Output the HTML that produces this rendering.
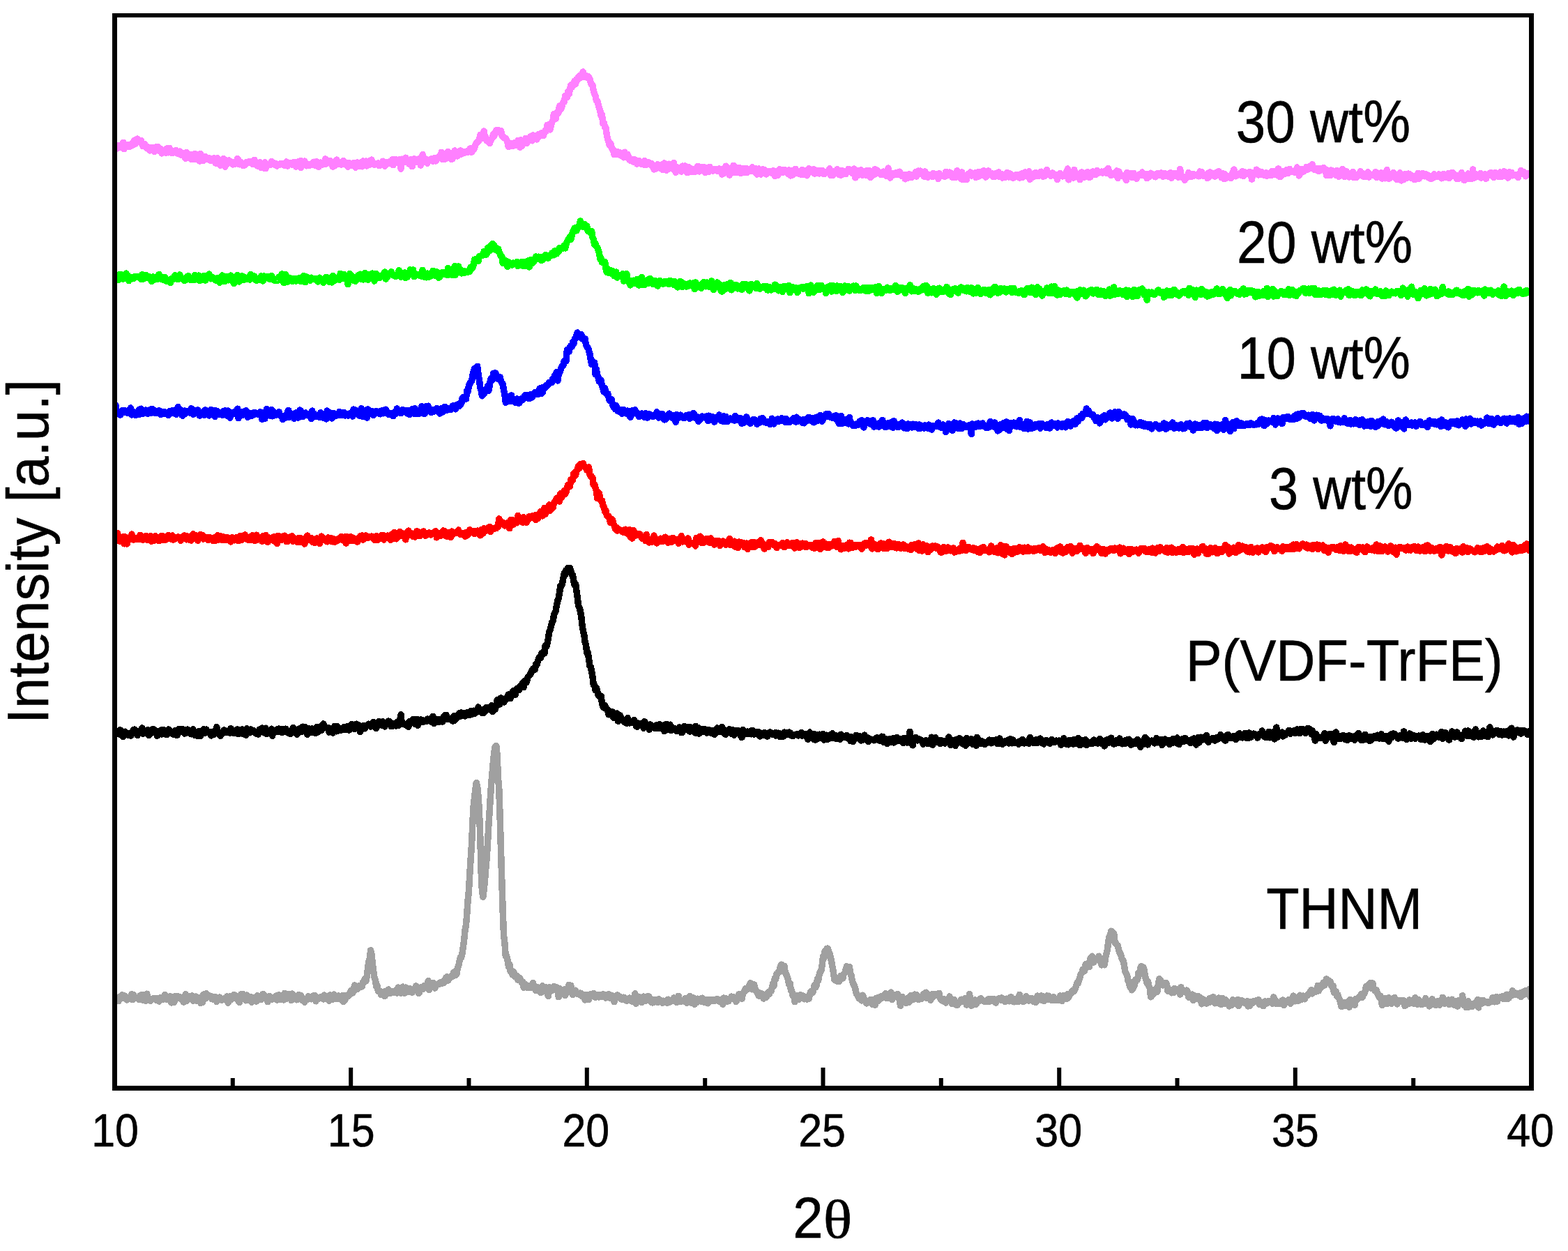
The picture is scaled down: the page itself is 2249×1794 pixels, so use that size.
<!DOCTYPE html>
<html><head><meta charset="utf-8"><title>XRD patterns</title>
<style>
html,body{margin:0;padding:0;background:#fff;overflow:hidden;}
svg{display:block;}
text{font-family:"Liberation Sans", sans-serif;fill:#000;stroke:#000;stroke-width:0.6px;}
</style></head><body>
<svg width="2249" height="1794" viewBox="0 0 2249 1794">
<defs><clipPath id="pc"><rect x="166" y="0" width="2031.5" height="1794"/></clipPath></defs>
<rect width="2249" height="1794" fill="#fff"/>
<g fill="none" stroke-width="9.5" stroke-linejoin="round" stroke-linecap="butt" shape-rendering="crispEdges" clip-path="url(#pc)">
<path d="M164.5 210.1 165.9 213.8 167.2 213.4 168.6 209.2 169.9 209.1 171.3 208.4 172.6 211.4 174.0 209.5 175.3 211.7 176.7 204.3 178.0 213.7 179.4 208.9 180.8 210.9 182.1 208.5 183.5 207.6 184.8 209.6 186.2 210.2 187.5 206.8 188.9 206.5 190.2 208.3 191.6 203.4 192.9 201.2 194.3 206.1 195.7 202.8 197.0 199.2 198.4 202.2 199.7 203.4 201.1 201.7 202.4 201.5 203.8 206.5 205.1 209.7 206.5 207.4 207.8 206.9 209.2 211.0 210.6 212.8 211.9 210.8 213.3 213.9 214.6 215.9 216.0 212.8 217.3 211.4 218.7 215.0 220.0 214.9 221.4 217.6 222.8 211.1 224.1 213.1 225.5 212.8 226.8 210.5 228.2 215.9 229.5 217.2 230.9 213.8 232.2 219.9 233.6 218.5 234.9 218.1 236.3 217.6 237.7 219.3 239.0 213.1 240.4 218.7 241.7 218.8 243.1 212.3 244.4 218.3 245.8 216.7 247.1 219.7 248.5 216.4 249.8 218.4 251.2 218.8 252.6 215.5 253.9 219.8 255.3 218.0 256.6 219.8 258.0 217.2 259.3 221.9 260.7 220.9 262.0 219.2 263.4 222.2 264.7 224.9 266.1 227.3 267.5 218.7 268.8 226.3 270.2 225.6 271.5 224.3 272.9 221.9 274.2 228.3 275.6 221.4 276.9 226.5 278.3 228.7 279.6 220.6 281.0 224.3 282.4 221.5 283.7 225.9 285.1 229.5 286.4 231.0 287.8 220.5 289.1 224.0 290.5 227.8 291.8 230.5 293.2 227.6 294.5 224.8 295.9 228.1 297.3 227.7 298.6 227.7 300.0 226.7 301.3 230.2 302.7 230.4 304.0 229.6 305.4 229.4 306.7 226.7 308.1 229.1 309.4 234.0 310.8 230.3 312.2 226.9 313.5 234.8 314.9 232.7 316.2 237.3 317.6 231.7 318.9 230.3 320.3 227.7 321.6 235.6 323.0 239.2 324.4 229.8 325.7 230.4 327.1 234.0 328.4 230.1 329.8 231.8 331.1 231.7 332.5 233.3 333.8 235.9 335.2 233.0 336.5 235.6 337.9 232.0 339.3 234.2 340.6 227.4 342.0 229.4 343.3 235.8 344.7 232.0 346.0 235.4 347.4 235.4 348.7 237.6 350.1 236.3 351.4 236.9 352.8 233.8 354.2 232.3 355.5 232.3 356.9 233.0 358.2 231.3 359.6 233.0 360.9 234.3 362.3 235.3 363.6 233.7 365.0 229.3 366.3 234.5 367.7 235.4 369.1 237.9 370.4 236.5 371.8 233.2 373.1 233.0 374.5 240.7 375.8 237.2 377.2 240.3 378.5 241.2 379.9 232.9 381.2 241.7 382.6 236.6 384.0 236.9 385.3 236.9 386.7 236.0 388.0 236.0 389.4 231.3 390.7 235.1 392.1 233.5 393.4 235.9 394.8 234.3 396.1 237.4 397.5 237.9 398.9 236.5 400.2 236.6 401.6 235.9 402.9 234.4 404.3 235.2 405.6 234.3 407.0 236.8 408.3 235.7 409.7 237.3 411.0 232.0 412.4 238.1 413.8 233.5 415.1 233.6 416.5 235.1 417.8 234.0 419.2 236.4 420.5 233.9 421.9 232.5 423.2 233.1 424.6 239.1 426.0 235.5 427.3 232.1 428.7 235.4 430.0 231.0 431.4 240.3 432.7 231.0 434.1 236.6 435.4 236.7 436.8 231.1 438.1 236.0 439.5 237.9 440.9 236.3 442.2 235.7 443.6 237.6 444.9 235.4 446.3 235.8 447.6 234.5 449.0 236.6 450.3 232.2 451.7 237.0 453.0 233.3 454.4 231.7 455.8 235.7 457.1 239.4 458.5 237.3 459.8 233.2 461.2 236.5 462.5 233.3 463.9 234.2 465.2 234.8 466.6 228.0 467.9 235.0 469.3 231.6 470.7 232.5 472.0 230.4 473.4 230.3 474.7 231.9 476.1 236.8 477.4 239.2 478.8 234.4 480.1 237.6 481.5 233.8 482.8 229.1 484.2 234.9 485.6 235.7 486.9 233.3 488.3 235.3 489.6 236.1 491.0 232.1 492.3 230.4 493.7 233.9 495.0 233.9 496.4 233.5 497.7 237.3 499.1 239.3 500.5 233.3 501.8 236.5 503.2 237.1 504.5 236.5 505.9 237.4 507.2 233.4 508.6 236.6 509.9 240.2 511.3 236.8 512.6 232.8 514.0 236.2 515.4 238.0 516.7 235.5 518.1 232.9 519.4 238.8 520.8 231.0 522.1 235.9 523.5 234.5 524.8 231.2 526.2 237.9 527.6 235.5 528.9 231.2 530.3 236.2 531.6 233.3 533.0 229.2 534.3 232.6 535.7 235.2 537.0 236.3 538.4 235.0 539.7 234.6 541.1 235.8 542.5 233.9 543.8 237.7 545.2 234.8 546.5 235.1 547.9 235.7 549.2 231.2 550.6 232.1 551.9 238.3 553.3 234.8 554.6 233.0 556.0 234.6 557.4 232.2 558.7 234.2 560.1 231.5 561.4 234.0 562.8 228.7 564.1 236.7 565.5 231.4 566.8 228.3 568.2 231.9 569.5 231.4 570.9 232.7 572.3 229.0 573.6 233.2 575.0 242.1 576.3 228.2 577.7 232.6 579.0 230.7 580.4 232.0 581.7 226.2 583.1 228.0 584.4 232.4 585.8 230.9 587.2 235.5 588.5 228.8 589.9 231.2 591.2 238.7 592.6 228.3 593.9 227.8 595.3 230.2 596.6 230.0 598.0 232.4 599.3 230.3 600.7 227.7 602.1 230.3 603.4 237.0 604.8 233.1 606.1 221.6 607.5 228.9 608.8 226.7 610.2 230.8 611.5 228.4 612.9 234.2 614.2 231.2 615.6 231.0 617.0 228.9 618.3 228.1 619.7 229.0 621.0 231.5 622.4 229.2 623.7 226.6 625.1 230.9 626.4 227.7 627.8 226.8 629.2 224.6 630.5 225.0 631.9 224.6 633.2 218.3 634.6 228.7 635.9 227.2 637.3 224.8 638.6 228.1 640.0 226.1 641.3 225.7 642.7 217.4 644.1 223.4 645.4 225.3 646.8 228.0 648.1 228.3 649.5 226.8 650.8 219.3 652.2 216.0 653.5 223.5 654.9 221.6 656.2 223.9 657.6 220.5 659.0 221.1 660.3 215.9 661.7 220.9 663.0 218.0 664.4 219.7 665.7 219.6 667.1 217.5 668.4 218.1 669.8 216.7 671.1 218.2 672.5 216.9 673.9 213.3 675.2 212.5 676.6 218.3 677.9 212.3 679.3 214.6 680.6 211.7 682.0 207.3 683.3 204.6 684.7 204.6 686.0 202.5 687.4 201.0 688.8 193.6 690.1 193.7 691.5 194.0 692.8 198.4 694.2 188.1 695.5 197.8 696.9 197.2 698.2 201.9 699.6 200.5 700.9 202.9 702.3 205.5 703.7 200.9 705.0 199.4 706.4 197.4 707.7 192.2 709.1 194.9 710.4 189.9 711.8 186.7 713.1 187.7 714.5 186.6 715.8 189.4 717.2 187.9 718.6 187.7 719.9 194.8 721.3 195.2 722.6 197.8 724.0 197.8 725.3 198.3 726.7 200.6 728.0 204.4 729.4 210.7 730.8 209.9 732.1 205.6 733.5 209.5 734.8 205.4 736.2 209.4 737.5 205.1 738.9 204.4 740.2 207.8 741.6 206.6 742.9 201.6 744.3 207.8 745.7 211.2 747.0 200.6 748.4 209.4 749.7 201.9 751.1 202.0 752.4 202.5 753.8 198.5 755.1 205.7 756.5 203.0 757.8 199.1 759.2 199.9 760.6 196.0 761.9 198.7 763.3 201.8 764.6 193.8 766.0 196.8 767.3 197.8 768.7 199.7 770.0 199.8 771.4 194.1 772.7 192.5 774.1 195.0 775.5 191.8 776.8 191.0 778.2 193.9 779.5 194.6 780.9 189.4 782.2 187.0 783.6 187.8 784.9 179.5 786.3 183.1 787.6 178.3 789.0 186.0 790.4 179.2 791.7 175.4 793.1 172.2 794.4 163.4 795.8 170.1 797.1 170.4 798.5 161.5 799.8 163.2 801.2 160.9 802.5 152.1 803.9 156.6 805.3 155.2 806.6 149.6 808.0 146.2 809.3 146.1 810.7 137.2 812.0 139.4 813.4 139.8 814.7 131.1 816.1 135.1 817.4 128.9 818.8 122.0 820.2 125.4 821.5 120.8 822.9 122.3 824.2 116.1 825.6 120.4 826.9 113.6 828.3 114.9 829.6 110.2 831.0 109.0 832.4 111.5 833.7 107.5 835.1 105.2 836.4 103.0 837.8 110.3 839.1 110.0 840.5 108.2 841.8 111.2 843.2 109.3 844.5 111.0 845.9 113.3 847.3 118.9 848.6 121.7 850.0 122.2 851.3 130.3 852.7 134.6 854.0 137.3 855.4 144.1 856.7 144.7 858.1 149.4 859.4 155.5 860.8 158.7 862.2 165.8 863.5 165.0 864.9 177.3 866.2 176.0 867.6 182.3 868.9 183.4 870.3 193.2 871.6 199.7 873.0 203.9 874.3 207.9 875.7 205.5 877.1 211.3 878.4 214.8 879.8 215.0 881.1 221.6 882.5 219.6 883.8 219.6 885.2 221.5 886.5 217.9 887.9 218.3 889.2 218.8 890.6 223.0 892.0 222.9 893.3 224.0 894.7 225.8 896.0 218.2 897.4 222.4 898.7 224.9 900.1 221.4 901.4 224.3 902.8 229.3 904.1 230.1 905.5 230.7 906.9 228.5 908.2 228.4 909.6 232.6 910.9 229.2 912.3 231.7 913.6 235.1 915.0 230.8 916.3 230.6 917.7 232.8 919.0 234.9 920.4 235.0 921.8 234.6 923.1 236.1 924.5 230.5 925.8 233.0 927.2 236.3 928.5 233.6 929.9 232.9 931.2 233.6 932.6 234.7 934.0 237.1 935.3 235.0 936.7 238.7 938.0 243.0 939.4 238.0 940.7 242.1 942.1 239.5 943.4 235.7 944.8 238.2 946.1 236.3 947.5 241.4 948.9 236.1 950.2 243.2 951.6 241.2 952.9 234.0 954.3 242.0 955.6 244.3 957.0 237.8 958.3 242.9 959.7 235.2 961.0 241.1 962.4 235.8 963.8 241.9 965.1 235.7 966.5 233.4 967.8 242.0 969.2 247.4 970.5 239.4 971.9 243.5 973.2 241.5 974.6 240.4 975.9 243.1 977.3 246.1 978.7 238.1 980.0 243.2 981.4 242.7 982.7 237.8 984.1 246.4 985.4 247.4 986.8 239.3 988.1 246.9 989.5 242.3 990.8 241.8 992.2 246.5 993.6 243.0 994.9 243.3 996.3 246.7 997.6 246.1 999.0 245.1 1000.3 238.7 1001.7 238.3 1003.0 245.9 1004.4 240.2 1005.7 243.3 1007.1 239.9 1008.5 242.5 1009.8 239.4 1011.2 247.6 1012.5 240.3 1013.9 242.8 1015.2 242.7 1016.6 246.7 1017.9 239.3 1019.3 243.3 1020.6 242.8 1022.0 244.9 1023.4 244.8 1024.7 242.3 1026.1 244.3 1027.4 242.6 1028.8 245.0 1030.1 243.4 1031.5 241.9 1032.8 243.7 1034.2 244.9 1035.6 250.2 1036.9 242.6 1038.3 244.8 1039.6 248.1 1041.0 238.2 1042.3 239.2 1043.7 240.8 1045.0 243.8 1046.4 251.0 1047.7 245.3 1049.1 247.7 1050.5 243.7 1051.8 237.5 1053.2 237.9 1054.5 247.3 1055.9 245.0 1057.2 243.7 1058.6 247.7 1059.9 240.3 1061.3 247.8 1062.6 248.7 1064.0 242.6 1065.4 241.6 1066.7 247.1 1068.1 241.7 1069.4 247.3 1070.8 241.5 1072.1 247.2 1073.5 245.2 1074.8 243.8 1076.2 242.5 1077.5 245.7 1078.9 239.8 1080.3 244.3 1081.6 244.0 1083.0 247.1 1084.3 241.7 1085.7 250.0 1087.0 244.4 1088.4 242.1 1089.7 249.2 1091.1 250.0 1092.4 244.9 1093.8 242.9 1095.2 245.5 1096.5 243.5 1097.9 244.6 1099.2 249.9 1100.6 246.6 1101.9 246.0 1103.3 246.6 1104.6 245.5 1106.0 248.0 1107.3 248.1 1108.7 244.7 1110.1 246.0 1111.4 252.5 1112.8 247.0 1114.1 245.3 1115.5 251.6 1116.8 245.9 1118.2 242.8 1119.5 247.8 1120.9 243.4 1122.2 244.6 1123.6 246.9 1125.0 245.6 1126.3 243.9 1127.7 244.5 1129.0 244.4 1130.4 249.4 1131.7 244.1 1133.1 244.5 1134.4 251.9 1135.8 244.6 1137.2 250.4 1138.5 249.9 1139.9 245.8 1141.2 242.3 1142.6 247.6 1143.9 248.2 1145.3 249.1 1146.6 246.6 1148.0 249.8 1149.3 250.3 1150.7 243.5 1152.1 250.5 1153.4 247.0 1154.8 244.9 1156.1 245.6 1157.5 251.8 1158.8 249.3 1160.2 241.6 1161.5 246.8 1162.9 246.2 1164.2 246.2 1165.6 245.2 1167.0 242.6 1168.3 249.1 1169.7 244.1 1171.0 245.7 1172.4 245.1 1173.7 244.8 1175.1 248.9 1176.4 247.9 1177.8 245.0 1179.1 244.3 1180.5 245.6 1181.9 249.7 1183.2 247.3 1184.6 247.7 1185.9 246.1 1187.3 246.3 1188.6 247.7 1190.0 241.9 1191.3 251.6 1192.7 244.9 1194.0 245.6 1195.4 250.9 1196.8 247.8 1198.1 247.4 1199.5 245.6 1200.8 242.9 1202.2 247.8 1203.5 250.7 1204.9 244.9 1206.2 251.2 1207.6 244.3 1208.9 245.4 1210.3 248.9 1211.7 247.5 1213.0 249.5 1214.4 245.5 1215.7 244.7 1217.1 242.4 1218.4 244.3 1219.8 244.7 1221.1 243.7 1222.5 248.6 1223.8 245.9 1225.2 242.2 1226.6 254.8 1227.9 245.5 1229.3 244.4 1230.6 251.4 1232.0 250.0 1233.3 244.8 1234.7 243.9 1236.0 245.3 1237.4 251.3 1238.8 247.3 1240.1 245.9 1241.5 248.1 1242.8 251.6 1244.2 244.4 1245.5 247.2 1246.9 244.5 1248.2 254.4 1249.6 253.5 1250.9 251.1 1252.3 248.1 1253.7 250.3 1255.0 242.6 1256.4 249.3 1257.7 244.8 1259.1 244.9 1260.4 246.7 1261.8 247.7 1263.1 250.3 1264.5 250.7 1265.8 249.5 1267.2 246.2 1268.6 250.7 1269.9 248.5 1271.3 252.2 1272.6 246.4 1274.0 241.2 1275.3 247.7 1276.7 255.1 1278.0 250.4 1279.4 248.6 1280.7 251.6 1282.1 250.6 1283.5 250.5 1284.8 247.8 1286.2 249.5 1287.5 249.9 1288.9 247.5 1290.2 246.2 1291.6 249.8 1292.9 252.1 1294.3 251.3 1295.6 250.9 1297.0 250.9 1298.4 256.8 1299.7 250.3 1301.1 252.5 1302.4 255.1 1303.8 249.8 1305.1 250.4 1306.5 252.6 1307.8 254.5 1309.2 250.7 1310.5 250.8 1311.9 250.1 1313.3 246.5 1314.6 253.0 1316.0 249.2 1317.3 245.1 1318.7 249.6 1320.0 245.2 1321.4 247.2 1322.7 250.1 1324.1 247.5 1325.4 253.1 1326.8 246.0 1328.2 250.9 1329.5 251.7 1330.9 254.3 1332.2 252.8 1333.6 250.9 1334.9 250.5 1336.3 250.1 1337.6 253.5 1339.0 248.5 1340.4 251.8 1341.7 250.1 1343.1 251.0 1344.4 249.7 1345.8 256.4 1347.1 248.6 1348.5 251.1 1349.8 251.2 1351.2 252.2 1352.5 251.7 1353.9 251.7 1355.3 253.3 1356.6 246.3 1358.0 250.6 1359.3 247.1 1360.7 251.2 1362.0 247.2 1363.4 247.9 1364.7 250.4 1366.1 254.5 1367.4 252.2 1368.8 251.4 1370.2 254.5 1371.5 248.0 1372.9 244.8 1374.2 249.5 1375.6 249.9 1376.9 254.1 1378.3 256.7 1379.6 247.0 1381.0 257.6 1382.3 255.1 1383.7 253.1 1385.1 251.8 1386.4 257.5 1387.8 251.0 1389.1 249.4 1390.5 251.2 1391.8 246.9 1393.2 252.1 1394.5 250.5 1395.9 251.7 1397.2 251.8 1398.6 247.9 1400.0 254.5 1401.3 248.0 1402.7 253.3 1404.0 246.4 1405.4 251.9 1406.7 248.6 1408.1 251.0 1409.4 249.1 1410.8 244.8 1412.1 247.8 1413.5 253.9 1414.9 252.7 1416.2 246.8 1417.6 245.0 1418.9 248.5 1420.3 250.4 1421.6 249.2 1423.0 248.7 1424.3 253.4 1425.7 253.7 1427.0 253.1 1428.4 248.4 1429.8 251.2 1431.1 250.5 1432.5 247.0 1433.8 253.5 1435.2 251.3 1436.5 249.7 1437.9 255.0 1439.2 253.2 1440.6 253.5 1442.0 254.4 1443.3 253.1 1444.7 247.5 1446.0 250.0 1447.4 253.9 1448.7 249.0 1450.1 251.2 1451.4 252.2 1452.8 255.2 1454.1 254.8 1455.5 253.7 1456.9 250.6 1458.2 253.7 1459.6 252.6 1460.9 250.7 1462.3 255.0 1463.6 252.6 1465.0 249.1 1466.3 254.7 1467.7 250.5 1469.0 252.9 1470.4 246.9 1471.8 251.1 1473.1 248.6 1474.5 248.5 1475.8 245.9 1477.2 257.2 1478.5 250.8 1479.9 251.9 1481.2 254.3 1482.6 250.9 1483.9 252.7 1485.3 247.4 1486.7 251.8 1488.0 250.1 1489.4 252.7 1490.7 251.8 1492.1 247.4 1493.4 246.1 1494.8 248.4 1496.1 253.3 1497.5 252.5 1498.8 252.4 1500.2 245.6 1501.6 243.7 1502.9 249.5 1504.3 250.3 1505.6 249.6 1507.0 252.3 1508.3 250.8 1509.7 248.0 1511.0 248.8 1512.4 251.7 1513.7 251.5 1515.1 251.1 1516.5 257.6 1517.8 250.6 1519.2 251.6 1520.5 248.5 1521.9 250.3 1523.2 252.8 1524.6 252.9 1525.9 250.9 1527.3 252.4 1528.6 251.5 1530.0 246.0 1531.4 242.1 1532.7 257.8 1534.1 253.6 1535.4 251.1 1536.8 246.4 1538.1 247.7 1539.5 255.1 1540.8 243.5 1542.2 250.4 1543.6 253.7 1544.9 251.6 1546.3 253.3 1547.6 250.7 1549.0 257.7 1550.3 248.1 1551.7 247.0 1553.0 251.5 1554.4 254.6 1555.7 250.4 1557.1 253.3 1558.5 248.8 1559.8 246.8 1561.2 253.9 1562.5 254.2 1563.9 254.0 1565.2 248.3 1566.6 246.2 1567.9 246.0 1569.3 248.5 1570.6 250.5 1572.0 250.1 1573.4 244.4 1574.7 248.6 1576.1 247.7 1577.4 247.6 1578.8 246.9 1580.1 246.2 1581.5 248.2 1582.8 246.9 1584.2 247.2 1585.5 244.8 1586.9 248.1 1588.3 246.9 1589.6 241.7 1591.0 249.4 1592.3 247.7 1593.7 251.4 1595.0 248.7 1596.4 249.3 1597.7 250.4 1599.1 249.9 1600.4 248.8 1601.8 245.0 1603.2 255.3 1604.5 245.7 1605.9 249.2 1607.2 252.1 1608.6 251.3 1609.9 251.9 1611.3 252.5 1612.6 253.9 1614.0 251.2 1615.3 258.6 1616.7 247.6 1618.1 251.1 1619.4 249.5 1620.8 249.0 1622.1 251.4 1623.5 254.7 1624.8 248.7 1626.2 248.7 1627.5 252.8 1628.9 252.3 1630.2 256.3 1631.6 253.7 1633.0 251.5 1634.3 249.9 1635.7 251.5 1637.0 250.4 1638.4 247.1 1639.7 251.0 1641.1 250.5 1642.4 250.3 1643.8 249.8 1645.2 255.7 1646.5 253.0 1647.9 253.7 1649.2 249.4 1650.6 248.2 1651.9 250.3 1653.3 251.8 1654.6 250.2 1656.0 250.6 1657.3 253.8 1658.7 252.0 1660.1 248.4 1661.4 250.0 1662.8 249.4 1664.1 251.7 1665.5 247.9 1666.8 250.7 1668.2 253.2 1669.5 251.3 1670.9 248.7 1672.2 249.5 1673.6 251.6 1675.0 252.6 1676.3 253.6 1677.7 250.9 1679.0 247.6 1680.4 255.3 1681.7 252.1 1683.1 252.4 1684.4 252.1 1685.8 248.4 1687.1 250.4 1688.5 252.0 1689.9 254.2 1691.2 251.5 1692.6 242.6 1693.9 250.6 1695.3 252.3 1696.6 254.9 1698.0 253.3 1699.3 258.3 1700.7 255.3 1702.0 255.1 1703.4 253.9 1704.8 247.4 1706.1 253.7 1707.5 253.0 1708.8 249.8 1710.2 252.9 1711.5 252.4 1712.9 250.0 1714.2 250.9 1715.6 250.5 1716.9 251.9 1718.3 250.1 1719.7 252.8 1721.0 245.9 1722.4 250.4 1723.7 246.5 1725.1 249.9 1726.4 252.6 1727.8 251.2 1729.1 250.9 1730.5 251.4 1731.8 255.6 1733.2 248.1 1734.6 253.6 1735.9 246.9 1737.3 249.8 1738.6 251.6 1740.0 248.7 1741.3 251.7 1742.7 253.1 1744.0 247.7 1745.4 250.8 1746.8 250.0 1748.1 245.6 1749.5 250.5 1750.8 248.7 1752.2 254.7 1753.5 248.5 1754.9 256.1 1756.2 249.4 1757.6 256.3 1758.9 252.4 1760.3 252.1 1761.7 253.1 1763.0 253.4 1764.4 254.7 1765.7 255.6 1767.1 249.8 1768.4 247.2 1769.8 243.2 1771.1 249.6 1772.5 252.8 1773.8 251.7 1775.2 251.0 1776.6 249.6 1777.9 248.8 1779.3 249.8 1780.6 251.6 1782.0 245.6 1783.3 252.5 1784.7 246.4 1786.0 250.0 1787.4 248.6 1788.7 249.4 1790.1 247.4 1791.5 247.1 1792.8 249.7 1794.2 247.2 1795.5 257.1 1796.9 249.1 1798.2 248.3 1799.6 248.6 1800.9 247.1 1802.3 243.2 1803.6 249.3 1805.0 250.9 1806.4 245.8 1807.7 250.0 1809.1 246.5 1810.4 249.8 1811.8 250.9 1813.1 251.2 1814.5 251.0 1815.8 247.8 1817.2 252.2 1818.5 248.4 1819.9 250.5 1821.3 251.4 1822.6 248.5 1824.0 245.7 1825.3 250.9 1826.7 245.9 1828.0 246.4 1829.4 245.6 1830.7 250.9 1832.1 247.9 1833.4 241.9 1834.8 250.1 1836.2 253.7 1837.5 252.7 1838.9 245.9 1840.2 247.5 1841.6 248.6 1842.9 249.5 1844.3 246.9 1845.6 243.5 1847.0 248.5 1848.4 247.9 1849.7 242.3 1851.1 244.8 1852.4 246.3 1853.8 245.3 1855.1 246.5 1856.5 247.0 1857.8 246.0 1859.2 243.8 1860.5 240.1 1861.9 245.3 1863.3 251.9 1864.6 248.5 1866.0 242.5 1867.3 242.3 1868.7 246.2 1870.0 246.0 1871.4 242.7 1872.7 243.6 1874.1 239.4 1875.4 243.1 1876.8 239.2 1878.2 241.1 1879.5 241.2 1880.9 240.4 1882.2 235.9 1883.6 239.7 1884.9 243.1 1886.3 242.2 1887.6 241.5 1889.0 244.1 1890.3 245.0 1891.7 245.7 1893.1 241.4 1894.4 244.0 1895.8 243.3 1897.1 242.0 1898.5 240.6 1899.8 244.7 1901.2 242.8 1902.5 251.6 1903.9 245.5 1905.2 245.4 1906.6 245.1 1908.0 251.7 1909.3 244.1 1910.7 246.5 1912.0 245.1 1913.4 247.1 1914.7 247.7 1916.1 251.1 1917.4 244.4 1918.8 248.5 1920.1 253.4 1921.5 247.7 1922.9 248.9 1924.2 247.2 1925.6 242.6 1926.9 249.8 1928.3 253.6 1929.6 249.2 1931.0 245.5 1932.3 251.6 1933.7 251.2 1935.0 253.9 1936.4 253.7 1937.8 250.5 1939.1 252.4 1940.5 246.3 1941.8 254.5 1943.2 251.9 1944.5 254.5 1945.9 254.4 1947.2 250.7 1948.6 251.1 1950.0 249.1 1951.3 245.8 1952.7 251.3 1954.0 252.1 1955.4 248.7 1956.7 253.7 1958.1 252.0 1959.4 253.1 1960.8 249.7 1962.1 246.9 1963.5 254.1 1964.9 250.3 1966.2 251.6 1967.6 250.8 1968.9 251.2 1970.3 251.7 1971.6 250.6 1973.0 246.5 1974.3 254.3 1975.7 248.0 1977.0 251.2 1978.4 251.3 1979.8 252.9 1981.1 247.7 1982.5 256.0 1983.8 254.1 1985.2 254.5 1986.5 255.9 1987.9 250.1 1989.2 243.6 1990.6 253.3 1991.9 256.1 1993.3 255.7 1994.7 251.0 1996.0 252.2 1997.4 253.3 1998.7 247.5 2000.1 250.7 2001.4 250.8 2002.8 257.0 2004.1 250.8 2005.5 257.0 2006.8 252.7 2008.2 247.9 2009.6 258.9 2010.9 249.9 2012.3 254.4 2013.6 257.5 2015.0 251.2 2016.3 249.3 2017.7 255.6 2019.0 252.9 2020.4 249.3 2021.7 249.7 2023.1 251.7 2024.5 255.5 2025.8 252.0 2027.2 254.6 2028.5 257.4 2029.9 256.4 2031.2 256.9 2032.6 256.3 2033.9 248.3 2035.3 256.3 2036.6 253.8 2038.0 252.5 2039.4 249.8 2040.7 248.4 2042.1 249.8 2043.4 252.8 2044.8 249.6 2046.1 250.6 2047.5 251.2 2048.8 254.8 2050.2 252.1 2051.6 252.5 2052.9 256.6 2054.3 252.0 2055.6 254.6 2057.0 249.9 2058.3 253.8 2059.7 253.2 2061.0 253.4 2062.4 251.6 2063.7 250.0 2065.1 252.0 2066.5 251.6 2067.8 255.8 2069.2 255.4 2070.5 249.5 2071.9 254.6 2073.2 251.5 2074.6 254.1 2075.9 251.4 2077.3 248.6 2078.6 255.6 2080.0 253.9 2081.4 249.2 2082.7 247.3 2084.1 251.1 2085.4 249.2 2086.8 251.5 2088.1 254.2 2089.5 256.6 2090.8 251.4 2092.2 256.2 2093.5 255.6 2094.9 251.1 2096.3 247.6 2097.6 254.6 2099.0 253.9 2100.3 258.7 2101.7 256.1 2103.0 254.2 2104.4 256.7 2105.7 249.0 2107.1 252.4 2108.4 251.1 2109.8 256.7 2111.2 253.3 2112.5 243.1 2113.9 255.5 2115.2 249.1 2116.6 253.7 2117.9 250.2 2119.3 252.1 2120.6 253.2 2122.0 251.9 2123.3 248.6 2124.7 255.2 2126.1 252.3 2127.4 251.1 2128.8 253.1 2130.1 249.6 2131.5 256.3 2132.8 251.6 2134.2 251.9 2135.5 251.8 2136.9 248.3 2138.2 247.5 2139.6 251.3 2141.0 251.7 2142.3 254.4 2143.7 251.9 2145.0 247.5 2146.4 252.0 2147.7 252.8 2149.1 253.2 2150.4 251.3 2151.8 246.9 2153.2 253.6 2154.5 248.2 2155.9 251.8 2157.2 245.8 2158.6 252.3 2159.9 247.9 2161.3 253.1 2162.6 255.0 2164.0 253.3 2165.3 246.8 2166.7 247.4 2168.1 247.5 2169.4 251.8 2170.8 250.9 2172.1 250.4 2173.5 250.8 2174.8 251.5 2176.2 251.7 2177.5 254.6 2178.9 249.7 2180.2 250.4 2181.6 244.6 2183.0 246.1 2184.3 247.9 2185.7 246.5 2187.0 250.5 2188.4 252.8 2189.7 248.7 2191.1 248.6 2192.4 248.5 2193.8 250.3 2195.1 248.5 2196.5 251.2" stroke="#FF80FF"/>
<path d="M164.5 397.0 165.9 399.9 167.2 399.1 168.6 399.1 169.9 401.6 171.3 393.8 172.6 395.4 174.0 393.5 175.3 397.0 176.7 400.1 178.0 397.3 179.4 398.8 180.8 392.1 182.1 397.9 183.5 395.0 184.8 402.6 186.2 400.1 187.5 400.3 188.9 397.5 190.2 399.5 191.6 399.6 192.9 396.9 194.3 396.5 195.7 397.6 197.0 396.3 198.4 396.3 199.7 397.2 201.1 396.0 202.4 400.3 203.8 393.7 205.1 400.5 206.5 396.5 207.8 396.8 209.2 394.5 210.6 398.0 211.9 397.7 213.3 399.0 214.6 397.0 216.0 398.8 217.3 403.6 218.7 399.7 220.0 397.0 221.4 401.3 222.8 398.3 224.1 400.4 225.5 400.4 226.8 397.7 228.2 393.4 229.5 397.8 230.9 400.4 232.2 397.8 233.6 400.1 234.9 401.7 236.3 397.4 237.7 402.4 239.0 403.5 240.4 402.0 241.7 402.3 243.1 402.1 244.4 405.4 245.8 399.6 247.1 399.1 248.5 400.8 249.8 396.6 251.2 394.8 252.6 396.7 253.9 400.3 255.3 400.5 256.6 394.9 258.0 394.0 259.3 398.4 260.7 398.7 262.0 399.1 263.4 401.2 264.7 402.7 266.1 399.9 267.5 401.0 268.8 396.2 270.2 396.0 271.5 400.0 272.9 401.2 274.2 401.3 275.6 401.0 276.9 401.5 278.3 401.6 279.6 394.4 281.0 397.2 282.4 400.6 283.7 401.0 285.1 395.1 286.4 402.6 287.8 398.1 289.1 398.6 290.5 400.1 291.8 401.4 293.2 395.3 294.5 402.1 295.9 399.5 297.3 397.1 298.6 398.5 300.0 393.2 301.3 397.5 302.7 399.8 304.0 397.3 305.4 398.4 306.7 398.9 308.1 399.4 309.4 402.2 310.8 399.2 312.2 398.6 313.5 400.8 314.9 405.1 316.2 398.3 317.6 400.7 318.9 394.9 320.3 403.1 321.6 401.1 323.0 403.0 324.4 399.1 325.7 396.4 327.1 401.8 328.4 401.4 329.8 396.9 331.1 395.2 332.5 400.6 333.8 398.8 335.2 406.6 336.5 397.6 337.9 397.8 339.3 399.0 340.6 394.6 342.0 396.8 343.3 403.9 344.7 398.9 346.0 397.6 347.4 395.7 348.7 400.9 350.1 401.1 351.4 400.0 352.8 398.2 354.2 400.2 355.5 400.4 356.9 397.4 358.2 401.0 359.6 393.4 360.9 395.7 362.3 398.4 363.6 399.0 365.0 396.0 366.3 400.2 367.7 402.3 369.1 400.6 370.4 399.9 371.8 401.6 373.1 400.4 374.5 396.1 375.8 398.7 377.2 402.9 378.5 396.1 379.9 399.5 381.2 398.2 382.6 396.8 384.0 396.5 385.3 399.6 386.7 400.2 388.0 400.2 389.4 395.3 390.7 398.5 392.1 400.3 393.4 402.0 394.8 401.3 396.1 401.7 397.5 402.5 398.9 401.8 400.2 397.2 401.6 399.7 402.9 397.5 404.3 392.9 405.6 394.9 407.0 405.5 408.3 396.5 409.7 393.4 411.0 398.1 412.4 404.0 413.8 399.7 415.1 401.0 416.5 399.1 417.8 399.7 419.2 403.5 420.5 402.2 421.9 399.8 423.2 402.5 424.6 403.1 426.0 399.5 427.3 400.9 428.7 400.9 430.0 398.3 431.4 403.4 432.7 399.8 434.1 398.5 435.4 395.6 436.8 396.8 438.1 404.6 439.5 397.1 440.9 401.6 442.2 399.3 443.6 401.8 444.9 402.1 446.3 398.2 447.6 399.6 449.0 400.7 450.3 400.7 451.7 400.3 453.0 399.5 454.4 402.1 455.8 404.0 457.1 401.8 458.5 398.2 459.8 401.4 461.2 400.4 462.5 401.5 463.9 405.3 465.2 399.5 466.6 400.0 467.9 397.5 469.3 399.1 470.7 398.2 472.0 404.2 473.4 400.6 474.7 398.0 476.1 405.0 477.4 395.8 478.8 401.8 480.1 402.2 481.5 400.8 482.8 398.4 484.2 398.7 485.6 398.0 486.9 401.1 488.3 392.3 489.6 397.3 491.0 399.1 492.3 396.9 493.7 393.4 495.0 397.7 496.4 396.2 497.7 400.4 499.1 407.6 500.5 398.2 501.8 392.5 503.2 397.3 504.5 395.1 505.9 399.5 507.2 402.3 508.6 398.3 509.9 403.1 511.3 401.5 512.6 399.1 514.0 394.7 515.4 397.6 516.7 393.2 518.1 400.1 519.4 397.5 520.8 400.9 522.1 397.8 523.5 391.5 524.8 398.6 526.2 399.3 527.6 401.3 528.9 393.8 530.3 393.8 531.6 396.5 533.0 393.2 534.3 392.2 535.7 392.9 537.0 403.0 538.4 393.9 539.7 392.7 541.1 394.1 542.5 395.2 543.8 398.7 545.2 397.6 546.5 397.1 547.9 394.9 549.2 395.1 550.6 392.7 551.9 390.2 553.3 400.0 554.6 392.9 556.0 396.9 557.4 393.1 558.7 393.6 560.1 393.3 561.4 389.8 562.8 393.4 564.1 394.6 565.5 395.7 566.8 394.7 568.2 396.1 569.5 394.0 570.9 393.1 572.3 387.6 573.6 391.5 575.0 397.3 576.3 393.3 577.7 395.1 579.0 392.3 580.4 391.0 581.7 398.6 583.1 393.8 584.4 397.0 585.8 394.4 587.2 392.1 588.5 386.7 589.9 393.3 591.2 388.7 592.6 386.9 593.9 396.7 595.3 395.4 596.6 395.2 598.0 393.7 599.3 393.6 600.7 394.9 602.1 394.3 603.4 394.2 604.8 396.2 606.1 387.3 607.5 396.8 608.8 392.6 610.2 396.9 611.5 397.8 612.9 392.2 614.2 396.9 615.6 396.9 617.0 392.7 618.3 393.2 619.7 395.0 621.0 388.4 622.4 393.4 623.7 395.0 625.1 393.2 626.4 389.8 627.8 393.0 629.2 398.2 630.5 397.4 631.9 393.2 633.2 391.0 634.6 393.0 635.9 392.8 637.3 390.6 638.6 391.3 640.0 393.7 641.3 394.3 642.7 384.6 644.1 393.9 645.4 391.3 646.8 393.9 648.1 390.4 649.5 391.5 650.8 394.7 652.2 381.6 653.5 394.2 654.9 390.2 656.2 384.4 657.6 381.9 659.0 390.2 660.3 386.3 661.7 391.9 663.0 389.6 664.4 388.5 665.7 391.5 667.1 389.1 668.4 390.4 669.8 390.4 671.1 388.8 672.5 389.8 673.9 389.4 675.2 383.0 676.6 385.7 677.9 384.0 679.3 379.5 680.6 372.1 682.0 371.9 683.3 373.1 684.7 371.6 686.0 374.4 687.4 367.8 688.8 367.6 690.1 366.6 691.5 366.6 692.8 365.0 694.2 360.5 695.5 365.4 696.9 365.5 698.2 363.9 699.6 355.7 700.9 356.1 702.3 359.7 703.7 352.4 705.0 352.2 706.4 349.6 707.7 352.3 709.1 352.4 710.4 357.9 711.8 355.5 713.1 358.5 714.5 356.9 715.8 361.7 717.2 363.7 718.6 367.8 719.9 367.9 721.3 377.5 722.6 373.0 724.0 377.6 725.3 373.7 726.7 378.5 728.0 382.5 729.4 375.8 730.8 379.4 732.1 378.4 733.5 379.5 734.8 380.0 736.2 377.2 737.5 378.5 738.9 377.4 740.2 376.7 741.6 375.5 742.9 381.6 744.3 376.7 745.7 380.5 747.0 380.0 748.4 375.5 749.7 381.0 751.1 375.5 752.4 379.4 753.8 381.5 755.1 375.2 756.5 374.3 757.8 374.1 759.2 382.9 760.6 375.1 761.9 372.4 763.3 377.9 764.6 374.8 766.0 374.8 767.3 371.7 768.7 367.9 770.0 371.6 771.4 370.3 772.7 368.2 774.1 369.2 775.5 369.1 776.8 373.5 778.2 372.7 779.5 371.6 780.9 368.1 782.2 365.6 783.6 369.4 784.9 369.3 786.3 370.3 787.6 366.9 789.0 366.1 790.4 366.7 791.7 362.7 793.1 362.4 794.4 365.8 795.8 359.8 797.1 362.3 798.5 363.9 799.8 361.5 801.2 361.0 802.5 355.6 803.9 357.2 805.3 355.5 806.6 356.7 808.0 354.8 809.3 352.2 810.7 355.9 812.0 350.6 813.4 346.6 814.7 343.8 816.1 343.3 817.4 339.4 818.8 343.2 820.2 337.8 821.5 333.0 822.9 329.9 824.2 327.0 825.6 327.8 826.9 330.8 828.3 328.0 829.6 324.1 831.0 323.5 832.4 317.0 833.7 323.7 835.1 320.7 836.4 325.3 837.8 321.6 839.1 321.8 840.5 325.1 841.8 324.2 843.2 331.5 844.5 330.3 845.9 332.3 847.3 334.4 848.6 331.7 850.0 340.5 851.3 342.9 852.7 350.7 854.0 349.3 855.4 353.5 856.7 354.7 858.1 358.8 859.4 362.8 860.8 370.9 862.2 370.9 863.5 376.2 864.9 375.3 866.2 377.5 867.6 375.4 868.9 385.2 870.3 390.4 871.6 385.5 873.0 391.3 874.3 390.7 875.7 387.4 877.1 392.3 878.4 388.4 879.8 390.8 881.1 395.7 882.5 393.3 883.8 390.2 885.2 398.0 886.5 397.0 887.9 394.7 889.2 394.8 890.6 395.9 892.0 394.5 893.3 392.8 894.7 403.1 896.0 395.8 897.4 396.5 898.7 392.6 900.1 400.1 901.4 403.9 902.8 404.7 904.1 408.9 905.5 405.7 906.9 403.0 908.2 402.2 909.6 406.4 910.9 402.6 912.3 403.5 913.6 400.5 915.0 403.6 916.3 409.1 917.7 403.6 919.0 405.1 920.4 397.4 921.8 408.1 923.1 405.5 924.5 408.5 925.8 405.4 927.2 402.5 928.5 401.2 929.9 406.5 931.2 405.1 932.6 399.7 934.0 405.2 935.3 403.7 936.7 407.6 938.0 404.5 939.4 402.3 940.7 405.6 942.1 404.3 943.4 410.1 944.8 404.8 946.1 402.5 947.5 406.1 948.9 405.6 950.2 407.1 951.6 407.1 952.9 403.6 954.3 406.5 955.6 406.4 957.0 403.4 958.3 405.2 959.7 407.5 961.0 402.5 962.4 404.0 963.8 405.8 965.1 407.0 966.5 408.7 967.8 403.6 969.2 408.3 970.5 409.2 971.9 411.9 973.2 406.5 974.6 405.2 975.9 403.5 977.3 409.4 978.7 411.5 980.0 406.1 981.4 409.3 982.7 410.6 984.1 411.0 985.4 407.3 986.8 410.3 988.1 408.4 989.5 406.0 990.8 409.5 992.2 409.9 993.6 406.2 994.9 410.3 996.3 414.7 997.6 405.0 999.0 411.2 1000.3 411.9 1001.7 409.5 1003.0 410.4 1004.4 408.8 1005.7 413.3 1007.1 407.0 1008.5 409.3 1009.8 404.3 1011.2 410.6 1012.5 410.8 1013.9 405.1 1015.2 407.4 1016.6 411.2 1017.9 408.6 1019.3 406.6 1020.6 403.0 1022.0 411.0 1023.4 415.5 1024.7 408.9 1026.1 411.4 1027.4 411.4 1028.8 404.9 1030.1 410.6 1031.5 410.7 1032.8 408.0 1034.2 417.4 1035.6 418.1 1036.9 411.4 1038.3 415.6 1039.6 408.3 1041.0 410.0 1042.3 413.9 1043.7 407.5 1045.0 407.2 1046.4 411.8 1047.7 405.4 1049.1 415.8 1050.5 413.1 1051.8 411.7 1053.2 413.0 1054.5 408.6 1055.9 408.6 1057.2 413.6 1058.6 413.9 1059.9 411.8 1061.3 411.3 1062.6 409.9 1064.0 415.4 1065.4 407.4 1066.7 409.2 1068.1 410.1 1069.4 407.4 1070.8 408.0 1072.1 408.8 1073.5 414.6 1074.8 416.9 1076.2 412.8 1077.5 407.3 1078.9 410.2 1080.3 411.6 1081.6 411.2 1083.0 411.0 1084.3 413.5 1085.7 406.6 1087.0 410.5 1088.4 412.8 1089.7 414.2 1091.1 413.0 1092.4 412.3 1093.8 411.9 1095.2 410.5 1096.5 412.6 1097.9 411.9 1099.2 410.5 1100.6 415.9 1101.9 415.9 1103.3 411.5 1104.6 414.4 1106.0 416.0 1107.3 413.4 1108.7 413.1 1110.1 414.2 1111.4 408.2 1112.8 408.8 1114.1 414.3 1115.5 413.7 1116.8 416.8 1118.2 411.6 1119.5 416.1 1120.9 416.0 1122.2 418.6 1123.6 410.8 1125.0 412.1 1126.3 413.9 1127.7 413.9 1129.0 410.4 1130.4 411.6 1131.7 409.6 1133.1 419.7 1134.4 413.1 1135.8 413.3 1137.2 411.6 1138.5 413.5 1139.9 415.6 1141.2 412.5 1142.6 413.4 1143.9 419.6 1145.3 416.1 1146.6 414.2 1148.0 412.4 1149.3 413.5 1150.7 411.5 1152.1 414.4 1153.4 411.6 1154.8 411.6 1156.1 412.5 1157.5 410.7 1158.8 414.2 1160.2 420.7 1161.5 412.0 1162.9 409.1 1164.2 416.4 1165.6 413.4 1167.0 419.3 1168.3 414.8 1169.7 416.4 1171.0 411.6 1172.4 409.3 1173.7 413.3 1175.1 415.7 1176.4 411.4 1177.8 409.4 1179.1 412.2 1180.5 412.6 1181.9 412.9 1183.2 413.8 1184.6 420.6 1185.9 414.0 1187.3 412.5 1188.6 410.9 1190.0 416.2 1191.3 409.5 1192.7 418.0 1194.0 413.9 1195.4 409.8 1196.8 414.5 1198.1 413.7 1199.5 417.4 1200.8 409.9 1202.2 414.6 1203.5 414.0 1204.9 416.7 1206.2 410.9 1207.6 411.9 1208.9 419.6 1210.3 415.7 1211.7 410.0 1213.0 415.1 1214.4 412.0 1215.7 412.3 1217.1 410.8 1218.4 417.0 1219.8 412.8 1221.1 414.8 1222.5 414.5 1223.8 410.1 1225.2 411.9 1226.6 416.5 1227.9 410.0 1229.3 415.1 1230.6 414.1 1232.0 416.2 1233.3 416.3 1234.7 416.7 1236.0 414.6 1237.4 415.2 1238.8 412.5 1240.1 413.0 1241.5 417.0 1242.8 412.9 1244.2 417.4 1245.5 417.3 1246.9 412.3 1248.2 416.1 1249.6 412.3 1250.9 415.6 1252.3 412.5 1253.7 415.6 1255.0 415.1 1256.4 411.8 1257.7 420.4 1259.1 417.4 1260.4 410.3 1261.8 415.7 1263.1 413.6 1264.5 420.5 1265.8 414.6 1267.2 415.9 1268.6 414.3 1269.9 416.6 1271.3 413.4 1272.6 412.3 1274.0 413.5 1275.3 413.7 1276.7 416.7 1278.0 415.2 1279.4 413.7 1280.7 413.8 1282.1 412.4 1283.5 415.3 1284.8 409.3 1286.2 414.4 1287.5 418.3 1288.9 414.0 1290.2 413.2 1291.6 415.2 1292.9 412.5 1294.3 412.9 1295.6 417.0 1297.0 413.3 1298.4 420.6 1299.7 416.6 1301.1 414.8 1302.4 413.4 1303.8 414.4 1305.1 408.8 1306.5 415.9 1307.8 417.7 1309.2 416.8 1310.5 414.0 1311.9 416.9 1313.3 417.0 1314.6 414.9 1316.0 416.2 1317.3 418.2 1318.7 416.6 1320.0 414.2 1321.4 415.4 1322.7 415.8 1324.1 410.9 1325.4 415.7 1326.8 415.0 1328.2 409.3 1329.5 410.6 1330.9 420.4 1332.2 415.7 1333.6 419.2 1334.9 414.4 1336.3 419.8 1337.6 417.1 1339.0 413.6 1340.4 416.3 1341.7 419.9 1343.1 422.2 1344.4 417.0 1345.8 414.3 1347.1 413.2 1348.5 417.5 1349.8 418.7 1351.2 416.1 1352.5 415.4 1353.9 418.0 1355.3 417.1 1356.6 416.9 1358.0 411.5 1359.3 414.9 1360.7 421.1 1362.0 415.8 1363.4 422.6 1364.7 417.0 1366.1 415.1 1367.4 416.7 1368.8 417.6 1370.2 413.9 1371.5 416.7 1372.9 414.8 1374.2 420.1 1375.6 414.8 1376.9 416.4 1378.3 411.9 1379.6 412.3 1381.0 415.9 1382.3 413.6 1383.7 415.3 1385.1 416.8 1386.4 417.8 1387.8 412.3 1389.1 416.9 1390.5 418.1 1391.8 414.4 1393.2 412.6 1394.5 414.4 1395.9 420.9 1397.2 416.4 1398.6 420.7 1400.0 415.6 1401.3 419.8 1402.7 412.4 1404.0 415.8 1405.4 416.7 1406.7 421.4 1408.1 417.9 1409.4 419.7 1410.8 415.4 1412.1 415.5 1413.5 420.2 1414.9 420.7 1416.2 420.1 1417.6 420.1 1418.9 415.3 1420.3 422.8 1421.6 417.3 1423.0 420.4 1424.3 419.0 1425.7 412.0 1427.0 411.5 1428.4 412.5 1429.8 416.8 1431.1 420.1 1432.5 416.3 1433.8 419.4 1435.2 413.6 1436.5 415.3 1437.9 414.6 1439.2 417.2 1440.6 413.9 1442.0 416.9 1443.3 418.9 1444.7 415.9 1446.0 414.8 1447.4 416.0 1448.7 413.9 1450.1 414.4 1451.4 419.6 1452.8 418.3 1454.1 413.4 1455.5 416.6 1456.9 418.7 1458.2 419.7 1459.6 419.3 1460.9 420.3 1462.3 417.5 1463.6 417.5 1465.0 416.9 1466.3 420.7 1467.7 420.1 1469.0 422.7 1470.4 420.9 1471.8 415.5 1473.1 413.6 1474.5 413.9 1475.8 415.3 1477.2 419.6 1478.5 413.9 1479.9 412.2 1481.2 417.4 1482.6 420.2 1483.9 420.1 1485.3 422.6 1486.7 417.9 1488.0 411.8 1489.4 417.2 1490.7 414.3 1492.1 416.2 1493.4 421.7 1494.8 424.0 1496.1 421.7 1497.5 418.5 1498.8 417.5 1500.2 418.8 1501.6 412.9 1502.9 419.8 1504.3 420.4 1505.6 417.9 1507.0 418.3 1508.3 411.1 1509.7 420.5 1511.0 420.5 1512.4 410.6 1513.7 416.7 1515.1 419.3 1516.5 423.1 1517.8 416.0 1519.2 418.3 1520.5 422.6 1521.9 419.8 1523.2 417.9 1524.6 417.3 1525.9 418.6 1527.3 416.3 1528.6 421.4 1530.0 416.2 1531.4 420.2 1532.7 421.3 1534.1 422.1 1535.4 419.1 1536.8 418.9 1538.1 419.8 1539.5 419.1 1540.8 422.0 1542.2 418.7 1543.6 424.4 1544.9 426.9 1546.3 417.2 1547.6 420.2 1549.0 415.8 1550.3 421.2 1551.7 420.3 1553.0 418.5 1554.4 416.2 1555.7 419.2 1557.1 424.8 1558.5 423.7 1559.8 420.2 1561.2 417.4 1562.5 419.1 1563.9 416.9 1565.2 415.4 1566.6 416.5 1567.9 420.9 1569.3 420.1 1570.6 419.7 1572.0 416.1 1573.4 415.3 1574.7 422.1 1576.1 418.2 1577.4 422.6 1578.8 417.2 1580.1 422.0 1581.5 420.0 1582.8 418.1 1584.2 418.1 1585.5 424.7 1586.9 422.0 1588.3 418.6 1589.6 419.9 1591.0 415.0 1592.3 424.3 1593.7 423.4 1595.0 418.3 1596.4 420.7 1597.7 411.7 1599.1 422.2 1600.4 420.8 1601.8 420.2 1603.2 421.8 1604.5 420.4 1605.9 416.8 1607.2 417.6 1608.6 419.0 1609.9 422.1 1611.3 419.6 1612.6 417.6 1614.0 420.6 1615.3 416.1 1616.7 425.4 1618.1 420.4 1619.4 416.8 1620.8 420.1 1622.1 422.6 1623.5 421.1 1624.8 425.4 1626.2 415.6 1627.5 424.1 1628.9 419.6 1630.2 422.2 1631.6 424.5 1633.0 416.3 1634.3 415.7 1635.7 418.6 1637.0 415.0 1638.4 414.1 1639.7 420.0 1641.1 423.0 1642.4 418.4 1643.8 421.2 1645.2 430.2 1646.5 420.8 1647.9 419.0 1649.2 419.4 1650.6 421.1 1651.9 419.1 1653.3 421.8 1654.6 420.5 1656.0 422.5 1657.3 420.3 1658.7 419.7 1660.1 417.3 1661.4 416.0 1662.8 419.1 1664.1 418.8 1665.5 420.7 1666.8 419.7 1668.2 418.9 1669.5 426.3 1670.9 420.9 1672.2 423.4 1673.6 417.1 1675.0 422.8 1676.3 423.3 1677.7 421.3 1679.0 417.5 1680.4 423.5 1681.7 418.0 1683.1 415.6 1684.4 415.4 1685.8 420.2 1687.1 418.6 1688.5 422.3 1689.9 421.9 1691.2 423.9 1692.6 421.0 1693.9 420.3 1695.3 420.1 1696.6 417.8 1698.0 417.7 1699.3 418.0 1700.7 420.7 1702.0 417.6 1703.4 419.8 1704.8 423.1 1706.1 413.3 1707.5 417.5 1708.8 417.2 1710.2 419.9 1711.5 415.8 1712.9 418.1 1714.2 426.4 1715.6 416.1 1716.9 419.7 1718.3 420.5 1719.7 419.1 1721.0 416.5 1722.4 422.7 1723.7 414.5 1725.1 417.2 1726.4 419.2 1727.8 418.1 1729.1 423.1 1730.5 418.9 1731.8 425.2 1733.2 419.8 1734.6 424.1 1735.9 420.9 1737.3 419.0 1738.6 418.9 1740.0 422.6 1741.3 418.2 1742.7 419.6 1744.0 417.4 1745.4 413.9 1746.8 421.2 1748.1 421.5 1749.5 416.3 1750.8 421.0 1752.2 419.0 1753.5 414.3 1754.9 417.0 1756.2 421.5 1757.6 422.5 1758.9 420.7 1760.3 427.5 1761.7 420.6 1763.0 417.5 1764.4 415.5 1765.7 423.8 1767.1 418.3 1768.4 418.6 1769.8 417.3 1771.1 417.3 1772.5 418.6 1773.8 420.9 1775.2 421.2 1776.6 420.6 1777.9 422.3 1779.3 418.3 1780.6 416.8 1782.0 419.5 1783.3 413.9 1784.7 422.1 1786.0 421.1 1787.4 421.2 1788.7 416.6 1790.1 418.2 1791.5 419.7 1792.8 416.8 1794.2 416.5 1795.5 419.0 1796.9 420.0 1798.2 417.7 1799.6 422.5 1800.9 425.8 1802.3 421.2 1803.6 419.0 1805.0 418.6 1806.4 424.1 1807.7 420.4 1809.1 421.2 1810.4 420.1 1811.8 417.9 1813.1 423.7 1814.5 418.8 1815.8 419.9 1817.2 413.4 1818.5 425.5 1819.9 421.5 1821.3 419.1 1822.6 417.1 1824.0 417.6 1825.3 414.5 1826.7 425.0 1828.0 416.8 1829.4 420.5 1830.7 420.5 1832.1 424.6 1833.4 419.8 1834.8 420.0 1836.2 420.6 1837.5 417.4 1838.9 418.5 1840.2 420.1 1841.6 422.4 1842.9 421.2 1844.3 418.4 1845.6 422.5 1847.0 418.0 1848.4 414.8 1849.7 423.5 1851.1 419.1 1852.4 417.7 1853.8 415.5 1855.1 417.6 1856.5 423.4 1857.8 418.4 1859.2 424.6 1860.5 418.3 1861.9 421.2 1863.3 418.0 1864.6 416.4 1866.0 416.3 1867.3 416.6 1868.7 413.8 1870.0 413.5 1871.4 417.9 1872.7 420.3 1874.1 417.2 1875.4 416.9 1876.8 414.2 1878.2 420.0 1879.5 419.8 1880.9 413.7 1882.2 417.3 1883.6 416.4 1884.9 413.3 1886.3 422.2 1887.6 421.2 1889.0 419.0 1890.3 422.3 1891.7 417.1 1893.1 419.5 1894.4 422.6 1895.8 418.2 1897.1 420.0 1898.5 416.5 1899.8 421.1 1901.2 422.5 1902.5 416.6 1903.9 417.1 1905.2 419.1 1906.6 423.3 1908.0 417.9 1909.3 417.1 1910.7 419.1 1912.0 422.6 1913.4 415.2 1914.7 419.0 1916.1 423.2 1917.4 419.4 1918.8 418.7 1920.1 421.9 1921.5 416.2 1922.9 425.3 1924.2 420.9 1925.6 418.5 1926.9 419.8 1928.3 419.4 1929.6 418.8 1931.0 416.2 1932.3 419.0 1933.7 414.8 1935.0 423.5 1936.4 416.5 1937.8 417.6 1939.1 417.4 1940.5 421.7 1941.8 419.1 1943.2 423.7 1944.5 418.4 1945.9 420.2 1947.2 419.6 1948.6 418.8 1950.0 422.9 1951.3 423.2 1952.7 423.5 1954.0 415.9 1955.4 420.8 1956.7 416.7 1958.1 416.6 1959.4 414.8 1960.8 417.2 1962.1 421.5 1963.5 423.8 1964.9 424.8 1966.2 417.4 1967.6 418.2 1968.9 420.6 1970.3 420.3 1971.6 420.5 1973.0 415.0 1974.3 419.4 1975.7 421.6 1977.0 420.7 1978.4 419.6 1979.8 417.9 1981.1 419.7 1982.5 424.4 1983.8 421.4 1985.2 422.9 1986.5 424.6 1987.9 416.9 1989.2 421.9 1990.6 421.3 1991.9 423.7 1993.3 419.3 1994.7 419.4 1996.0 418.1 1997.4 420.5 1998.7 419.2 2000.1 419.5 2001.4 420.9 2002.8 418.9 2004.1 417.3 2005.5 418.8 2006.8 418.4 2008.2 421.1 2009.6 423.4 2010.9 419.0 2012.3 413.1 2013.6 421.5 2015.0 419.7 2016.3 417.3 2017.7 419.2 2019.0 425.1 2020.4 415.7 2021.7 416.6 2023.1 419.7 2024.5 411.2 2025.8 418.6 2027.2 422.6 2028.5 421.4 2029.9 420.9 2031.2 418.9 2032.6 419.4 2033.9 427.6 2035.3 420.5 2036.6 423.7 2038.0 416.4 2039.4 420.6 2040.7 420.9 2042.1 420.3 2043.4 413.8 2044.8 418.7 2046.1 424.0 2047.5 421.4 2048.8 417.7 2050.2 422.3 2051.6 414.6 2052.9 421.5 2054.3 420.8 2055.6 418.1 2057.0 417.0 2058.3 415.2 2059.7 419.2 2061.0 424.7 2062.4 422.3 2063.7 421.0 2065.1 422.4 2066.5 418.2 2067.8 421.3 2069.2 411.7 2070.5 418.4 2071.9 418.5 2073.2 419.8 2074.6 419.3 2075.9 421.4 2077.3 418.0 2078.6 422.4 2080.0 419.1 2081.4 422.2 2082.7 420.1 2084.1 422.1 2085.4 421.0 2086.8 418.0 2088.1 417.6 2089.5 416.1 2090.8 419.8 2092.2 420.8 2093.5 418.9 2094.9 419.2 2096.3 422.4 2097.6 423.1 2099.0 423.6 2100.3 418.1 2101.7 418.5 2103.0 421.9 2104.4 422.1 2105.7 414.5 2107.1 425.2 2108.4 422.9 2109.8 416.2 2111.2 422.9 2112.5 418.5 2113.9 419.3 2115.2 416.9 2116.6 417.3 2117.9 418.6 2119.3 419.9 2120.6 416.5 2122.0 419.4 2123.3 417.6 2124.7 418.1 2126.1 417.1 2127.4 417.8 2128.8 424.1 2130.1 415.1 2131.5 415.9 2132.8 419.4 2134.2 418.1 2135.5 416.6 2136.9 420.7 2138.2 416.2 2139.6 419.5 2141.0 422.1 2142.3 421.1 2143.7 418.7 2145.0 419.5 2146.4 419.9 2147.7 421.1 2149.1 416.7 2150.4 422.9 2151.8 421.5 2153.2 424.6 2154.5 421.7 2155.9 422.2 2157.2 411.1 2158.6 418.1 2159.9 424.5 2161.3 420.4 2162.6 418.0 2164.0 421.2 2165.3 419.5 2166.7 420.4 2168.1 417.2 2169.4 420.7 2170.8 423.5 2172.1 419.9 2173.5 420.4 2174.8 417.2 2176.2 420.5 2177.5 418.0 2178.9 415.3 2180.2 417.9 2181.6 418.4 2183.0 420.6 2184.3 421.7 2185.7 418.4 2187.0 418.0 2188.4 420.8 2189.7 416.4 2191.1 418.0 2192.4 418.2 2193.8 418.4 2195.1 417.2 2196.5 423.4" stroke="#00FF00"/>
<path d="M164.5 595.1 165.9 581.4 167.2 592.7 168.6 590.2 169.9 593.7 171.3 591.1 172.6 595.2 174.0 590.1 175.3 588.6 176.7 591.7 178.0 591.3 179.4 589.1 180.8 589.4 182.1 592.1 183.5 592.1 184.8 588.8 186.2 589.1 187.5 585.1 188.9 594.9 190.2 589.6 191.6 594.0 192.9 591.4 194.3 595.7 195.7 594.6 197.0 591.2 198.4 594.4 199.7 587.6 201.1 593.8 202.4 586.2 203.8 591.3 205.1 593.3 206.5 591.0 207.8 589.4 209.2 588.1 210.6 589.5 211.9 593.4 213.3 592.9 214.6 589.7 216.0 587.0 217.3 592.4 218.7 586.4 220.0 589.0 221.4 588.5 222.8 592.6 224.1 591.2 225.5 591.9 226.8 591.4 228.2 588.7 229.5 592.1 230.9 594.6 232.2 590.6 233.6 592.5 234.9 590.4 236.3 593.6 237.7 592.6 239.0 593.2 240.4 591.8 241.7 595.4 243.1 589.8 244.4 589.9 245.8 589.2 247.1 592.6 248.5 589.1 249.8 589.1 251.2 593.0 252.6 594.2 253.9 592.6 255.3 583.5 256.6 588.3 258.0 588.0 259.3 587.7 260.7 595.1 262.0 596.2 263.4 590.2 264.7 589.1 266.1 593.1 267.5 591.3 268.8 591.5 270.2 589.3 271.5 591.2 272.9 592.4 274.2 585.9 275.6 586.8 276.9 594.3 278.3 593.7 279.6 589.9 281.0 588.5 282.4 590.8 283.7 588.0 285.1 590.5 286.4 596.1 287.8 591.8 289.1 594.7 290.5 590.9 291.8 592.6 293.2 595.4 294.5 587.8 295.9 590.6 297.3 591.2 298.6 592.4 300.0 596.0 301.3 593.6 302.7 587.5 304.0 591.0 305.4 589.2 306.7 589.2 308.1 597.5 309.4 588.8 310.8 592.5 312.2 589.9 313.5 594.3 314.9 592.9 316.2 592.3 317.6 591.8 318.9 595.2 320.3 589.4 321.6 590.0 323.0 588.9 324.4 595.8 325.7 591.3 327.1 589.2 328.4 591.0 329.8 599.2 331.1 591.9 332.5 594.6 333.8 593.6 335.2 592.3 336.5 590.4 337.9 591.4 339.3 591.4 340.6 586.2 342.0 599.7 343.3 595.1 344.7 592.8 346.0 592.0 347.4 590.3 348.7 595.2 350.1 592.1 351.4 594.0 352.8 588.8 354.2 593.8 355.5 598.3 356.9 592.0 358.2 595.0 359.6 592.9 360.9 596.0 362.3 595.9 363.6 593.1 365.0 591.4 366.3 593.8 367.7 593.1 369.1 592.3 370.4 594.4 371.8 594.3 373.1 590.7 374.5 592.9 375.8 601.4 377.2 595.5 378.5 593.6 379.9 600.4 381.2 592.1 382.6 586.5 384.0 588.1 385.3 589.2 386.7 594.2 388.0 596.3 389.4 587.5 390.7 596.8 392.1 590.3 393.4 594.5 394.8 595.1 396.1 595.1 397.5 593.9 398.9 594.4 400.2 590.8 401.6 594.9 402.9 596.9 404.3 596.8 405.6 601.6 407.0 597.4 408.3 596.4 409.7 599.1 411.0 595.2 412.4 591.0 413.8 588.4 415.1 598.3 416.5 596.4 417.8 597.2 419.2 594.0 420.5 595.9 421.9 600.3 423.2 596.0 424.6 592.0 426.0 594.0 427.3 599.1 428.7 592.2 430.0 588.1 431.4 589.0 432.7 591.7 434.1 597.7 435.4 595.8 436.8 593.4 438.1 592.0 439.5 595.3 440.9 595.2 442.2 594.1 443.6 595.0 444.9 593.5 446.3 600.7 447.6 589.1 449.0 596.0 450.3 592.9 451.7 597.7 453.0 595.0 454.4 596.7 455.8 597.1 457.1 596.2 458.5 598.4 459.8 591.7 461.2 598.2 462.5 594.9 463.9 596.6 465.2 599.8 466.6 598.6 467.9 600.9 469.3 589.0 470.7 592.6 472.0 597.9 473.4 592.0 474.7 594.6 476.1 599.9 477.4 597.5 478.8 592.3 480.1 596.2 481.5 596.7 482.8 595.0 484.2 594.5 485.6 595.1 486.9 590.4 488.3 594.9 489.6 591.8 491.0 595.6 492.3 595.6 493.7 591.8 495.0 596.0 496.4 595.2 497.7 594.0 499.1 596.1 500.5 593.1 501.8 593.2 503.2 594.1 504.5 593.7 505.9 597.0 507.2 587.1 508.6 592.8 509.9 588.0 511.3 592.1 512.6 594.2 514.0 593.4 515.4 596.1 516.7 594.2 518.1 585.6 519.4 590.0 520.8 597.5 522.1 597.4 523.5 593.3 524.8 588.6 526.2 599.0 527.6 587.0 528.9 593.7 530.3 592.6 531.6 593.4 533.0 589.4 534.3 591.5 535.7 595.6 537.0 591.2 538.4 590.5 539.7 589.6 541.1 592.6 542.5 592.0 543.8 590.1 545.2 593.8 546.5 591.9 547.9 588.9 549.2 592.8 550.6 592.0 551.9 592.5 553.3 587.2 554.6 589.8 556.0 593.2 557.4 594.5 558.7 592.8 560.1 592.3 561.4 593.8 562.8 594.5 564.1 596.7 565.5 593.0 566.8 590.1 568.2 593.0 569.5 586.1 570.9 591.7 572.3 590.3 573.6 591.4 575.0 592.8 576.3 591.6 577.7 587.3 579.0 590.3 580.4 589.0 581.7 591.2 583.1 592.2 584.4 588.4 585.8 593.1 587.2 594.6 588.5 590.2 589.9 592.9 591.2 586.7 592.6 589.3 593.9 593.4 595.3 585.7 596.6 589.2 598.0 588.0 599.3 593.7 600.7 593.6 602.1 588.6 603.4 590.6 604.8 582.8 606.1 592.5 607.5 591.0 608.8 593.6 610.2 583.1 611.5 590.7 612.9 588.7 614.2 582.2 615.6 587.5 617.0 589.1 618.3 591.5 619.7 589.7 621.0 587.5 622.4 590.1 623.7 588.4 625.1 586.7 626.4 585.5 627.8 588.6 629.2 588.4 630.5 592.9 631.9 586.2 633.2 591.8 634.6 588.0 635.9 590.1 637.3 583.9 638.6 583.8 640.0 585.0 641.3 588.1 642.7 585.8 644.1 587.1 645.4 585.5 646.8 587.2 648.1 584.4 649.5 582.0 650.8 584.4 652.2 582.7 653.5 586.8 654.9 580.9 656.2 581.0 657.6 579.1 659.0 582.3 660.3 580.4 661.7 578.5 663.0 571.8 664.4 569.4 665.7 572.7 667.1 572.0 668.4 572.0 669.8 560.3 671.1 561.4 672.5 552.8 673.9 550.3 675.2 547.7 676.6 546.8 677.9 537.9 679.3 532.2 680.6 528.7 682.0 529.8 683.3 532.2 684.7 525.3 686.0 536.8 687.4 544.9 688.8 555.7 690.1 559.7 691.5 567.8 692.8 562.6 694.2 564.8 695.5 562.0 696.9 558.2 698.2 558.4 699.6 553.2 700.9 560.2 702.3 552.2 703.7 544.6 705.0 542.0 706.4 544.9 707.7 535.5 709.1 536.4 710.4 534.8 711.8 537.3 713.1 541.5 714.5 543.4 715.8 543.3 717.2 540.8 718.6 546.9 719.9 549.3 721.3 550.8 722.6 560.1 724.0 565.9 725.3 577.2 726.7 570.4 728.0 569.5 729.4 571.2 730.8 572.8 732.1 575.7 733.5 567.1 734.8 575.5 736.2 572.5 737.5 573.8 738.9 577.1 740.2 576.3 741.6 572.0 742.9 573.3 744.3 578.3 745.7 576.3 747.0 574.4 748.4 571.3 749.7 573.4 751.1 571.2 752.4 568.0 753.8 566.3 755.1 570.1 756.5 569.3 757.8 571.3 759.2 566.2 760.6 571.1 761.9 565.8 763.3 569.9 764.6 567.5 766.0 563.9 767.3 562.4 768.7 564.2 770.0 563.1 771.4 565.6 772.7 560.2 774.1 557.0 775.5 560.1 776.8 564.5 778.2 562.7 779.5 555.3 780.9 555.4 782.2 556.1 783.6 552.6 784.9 552.9 786.3 551.9 787.6 548.8 789.0 548.9 790.4 548.1 791.7 548.6 793.1 542.6 794.4 543.9 795.8 538.4 797.1 536.5 798.5 533.5 799.8 545.9 801.2 536.3 802.5 534.6 803.9 531.3 805.3 526.4 806.6 525.1 808.0 523.4 809.3 517.8 810.7 518.5 812.0 517.6 813.4 501.3 814.7 504.4 816.1 504.3 817.4 498.2 818.8 495.7 820.2 497.3 821.5 490.9 822.9 493.2 824.2 486.3 825.6 485.5 826.9 480.4 828.3 477.0 829.6 481.1 831.0 482.7 832.4 481.9 833.7 479.6 835.1 485.9 836.4 485.1 837.8 486.3 839.1 485.7 840.5 494.6 841.8 497.3 843.2 498.5 844.5 502.2 845.9 507.6 847.3 515.5 848.6 522.3 850.0 518.1 851.3 520.5 852.7 520.1 854.0 536.6 855.4 529.3 856.7 538.5 858.1 541.2 859.4 547.1 860.8 544.5 862.2 545.7 863.5 553.6 864.9 557.2 866.2 561.9 867.6 556.4 868.9 562.3 870.3 565.1 871.6 564.2 873.0 569.6 874.3 574.5 875.7 574.4 877.1 572.6 878.4 579.8 879.8 583.3 881.1 584.3 882.5 586.8 883.8 581.4 885.2 588.5 886.5 589.8 887.9 587.6 889.2 588.9 890.6 587.3 892.0 593.3 893.3 589.4 894.7 587.9 896.0 591.3 897.4 591.4 898.7 593.2 900.1 589.2 901.4 589.8 902.8 593.0 904.1 598.4 905.5 593.6 906.9 588.7 908.2 593.1 909.6 590.6 910.9 587.8 912.3 591.3 913.6 591.7 915.0 594.7 916.3 597.4 917.7 597.0 919.0 596.3 920.4 592.9 921.8 594.7 923.1 594.3 924.5 598.5 925.8 592.8 927.2 593.2 928.5 599.1 929.9 596.6 931.2 593.8 932.6 595.6 934.0 595.7 935.3 595.9 936.7 597.7 938.0 596.5 939.4 595.1 940.7 594.3 942.1 590.9 943.4 594.6 944.8 599.1 946.1 596.6 947.5 594.2 948.9 595.4 950.2 593.8 951.6 597.0 952.9 601.9 954.3 601.4 955.6 599.8 957.0 598.7 958.3 595.9 959.7 593.1 961.0 596.7 962.4 595.4 963.8 599.1 965.1 597.3 966.5 595.3 967.8 598.2 969.2 605.2 970.5 594.5 971.9 600.3 973.2 598.8 974.6 596.9 975.9 595.1 977.3 597.3 978.7 598.0 980.0 599.5 981.4 599.4 982.7 598.4 984.1 595.6 985.4 598.4 986.8 596.3 988.1 594.8 989.5 600.3 990.8 595.9 992.2 594.5 993.6 598.1 994.9 592.6 996.3 597.8 997.6 599.3 999.0 597.0 1000.3 598.9 1001.7 604.3 1003.0 602.3 1004.4 601.0 1005.7 600.1 1007.1 597.1 1008.5 598.2 1009.8 597.9 1011.2 598.8 1012.5 599.1 1013.9 596.6 1015.2 603.5 1016.6 596.2 1017.9 600.2 1019.3 602.2 1020.6 599.3 1022.0 597.6 1023.4 599.6 1024.7 605.1 1026.1 601.5 1027.4 599.1 1028.8 601.6 1030.1 599.5 1031.5 595.0 1032.8 601.0 1034.2 603.4 1035.6 603.8 1036.9 600.5 1038.3 596.8 1039.6 604.3 1041.0 597.3 1042.3 603.2 1043.7 604.4 1045.0 602.4 1046.4 601.3 1047.7 599.9 1049.1 600.5 1050.5 602.0 1051.8 600.7 1053.2 603.1 1054.5 596.7 1055.9 599.5 1057.2 602.4 1058.6 600.6 1059.9 601.2 1061.3 599.6 1062.6 604.8 1064.0 607.5 1065.4 600.3 1066.7 606.4 1068.1 600.1 1069.4 603.7 1070.8 597.8 1072.1 604.9 1073.5 603.7 1074.8 604.1 1076.2 607.2 1077.5 605.5 1078.9 603.8 1080.3 601.7 1081.6 604.2 1083.0 602.2 1084.3 603.0 1085.7 608.3 1087.0 606.7 1088.4 605.1 1089.7 606.1 1091.1 600.3 1092.4 604.7 1093.8 599.6 1095.2 602.5 1096.5 605.4 1097.9 605.5 1099.2 606.4 1100.6 604.8 1101.9 604.5 1103.3 604.4 1104.6 608.3 1106.0 608.0 1107.3 600.2 1108.7 604.6 1110.1 607.9 1111.4 603.5 1112.8 604.8 1114.1 602.5 1115.5 600.8 1116.8 604.4 1118.2 602.9 1119.5 603.5 1120.9 599.9 1122.2 600.6 1123.6 603.4 1125.0 602.5 1126.3 605.2 1127.7 600.7 1129.0 605.5 1130.4 605.1 1131.7 603.6 1133.1 605.1 1134.4 603.0 1135.8 602.6 1137.2 603.0 1138.5 599.4 1139.9 602.8 1141.2 605.0 1142.6 598.2 1143.9 604.6 1145.3 600.8 1146.6 601.5 1148.0 602.6 1149.3 603.0 1150.7 606.0 1152.1 601.7 1153.4 606.8 1154.8 602.0 1156.1 603.1 1157.5 603.6 1158.8 599.7 1160.2 598.3 1161.5 601.7 1162.9 603.2 1164.2 603.6 1165.6 600.0 1167.0 605.8 1168.3 600.5 1169.7 598.8 1171.0 603.8 1172.4 603.7 1173.7 597.3 1175.1 601.8 1176.4 595.4 1177.8 598.6 1179.1 604.2 1180.5 601.0 1181.9 598.9 1183.2 598.3 1184.6 593.9 1185.9 597.0 1187.3 597.3 1188.6 593.3 1190.0 597.0 1191.3 598.5 1192.7 598.1 1194.0 599.3 1195.4 598.2 1196.8 596.4 1198.1 600.4 1199.5 595.7 1200.8 599.7 1202.2 605.3 1203.5 607.7 1204.9 604.2 1206.2 596.6 1207.6 607.3 1208.9 605.3 1210.3 603.5 1211.7 606.3 1213.0 606.0 1214.4 601.3 1215.7 601.2 1217.1 607.9 1218.4 598.8 1219.8 607.0 1221.1 606.4 1222.5 608.4 1223.8 610.7 1225.2 609.7 1226.6 610.4 1227.9 608.5 1229.3 607.8 1230.6 609.5 1232.0 606.6 1233.3 604.2 1234.7 606.6 1236.0 602.5 1237.4 605.5 1238.8 612.9 1240.1 608.7 1241.5 606.8 1242.8 605.8 1244.2 602.6 1245.5 606.1 1246.9 603.6 1248.2 607.8 1249.6 608.1 1250.9 607.8 1252.3 602.7 1253.7 612.2 1255.0 609.5 1256.4 608.4 1257.7 607.6 1259.1 609.8 1260.4 612.1 1261.8 610.4 1263.1 605.6 1264.5 605.4 1265.8 602.4 1267.2 609.4 1268.6 611.2 1269.9 612.7 1271.3 609.7 1272.6 611.7 1274.0 606.9 1275.3 611.0 1276.7 609.3 1278.0 607.9 1279.4 605.1 1280.7 613.2 1282.1 603.7 1283.5 611.8 1284.8 607.9 1286.2 612.0 1287.5 608.8 1288.9 612.5 1290.2 609.9 1291.6 607.7 1292.9 609.2 1294.3 606.2 1295.6 611.6 1297.0 613.8 1298.4 612.1 1299.7 611.3 1301.1 614.7 1302.4 607.9 1303.8 612.8 1305.1 611.3 1306.5 610.0 1307.8 612.9 1309.2 608.2 1310.5 611.1 1311.9 612.5 1313.3 608.3 1314.6 611.0 1316.0 613.1 1317.3 614.4 1318.7 609.1 1320.0 614.3 1321.4 611.0 1322.7 612.1 1324.1 610.3 1325.4 614.1 1326.8 610.0 1328.2 612.7 1329.5 613.0 1330.9 614.1 1332.2 609.1 1333.6 614.2 1334.9 612.1 1336.3 616.1 1337.6 611.0 1339.0 610.4 1340.4 611.8 1341.7 611.1 1343.1 611.5 1344.4 608.4 1345.8 606.1 1347.1 609.5 1348.5 610.2 1349.8 613.1 1351.2 611.0 1352.5 609.1 1353.9 611.4 1355.3 612.0 1356.6 619.5 1358.0 615.3 1359.3 612.2 1360.7 607.6 1362.0 611.2 1363.4 610.8 1364.7 613.2 1366.1 617.5 1367.4 611.4 1368.8 606.0 1370.2 611.1 1371.5 606.7 1372.9 613.8 1374.2 614.5 1375.6 612.3 1376.9 607.2 1378.3 610.8 1379.6 614.6 1381.0 608.4 1382.3 609.5 1383.7 611.9 1385.1 612.5 1386.4 611.3 1387.8 612.0 1389.1 611.6 1390.5 609.4 1391.8 610.7 1393.2 622.6 1394.5 607.8 1395.9 611.4 1397.2 611.1 1398.6 612.1 1400.0 611.8 1401.3 607.8 1402.7 607.2 1404.0 611.4 1405.4 610.3 1406.7 610.9 1408.1 609.1 1409.4 607.0 1410.8 611.3 1412.1 610.2 1413.5 612.3 1414.9 613.6 1416.2 613.6 1417.6 613.3 1418.9 607.8 1420.3 604.6 1421.6 608.8 1423.0 607.1 1424.3 606.8 1425.7 612.3 1427.0 606.0 1428.4 613.0 1429.8 613.5 1431.1 617.9 1432.5 613.4 1433.8 616.3 1435.2 608.7 1436.5 608.6 1437.9 613.2 1439.2 606.8 1440.6 613.7 1442.0 609.7 1443.3 605.0 1444.7 615.7 1446.0 607.3 1447.4 617.5 1448.7 606.3 1450.1 608.1 1451.4 611.1 1452.8 610.5 1454.1 606.1 1455.5 610.8 1456.9 611.0 1458.2 611.8 1459.6 606.0 1460.9 608.8 1462.3 602.7 1463.6 612.7 1465.0 610.9 1466.3 609.5 1467.7 609.3 1469.0 614.6 1470.4 608.2 1471.8 611.3 1473.1 604.4 1474.5 615.2 1475.8 611.8 1477.2 605.6 1478.5 612.2 1479.9 614.4 1481.2 612.8 1482.6 610.7 1483.9 612.9 1485.3 608.4 1486.7 609.8 1488.0 609.5 1489.4 610.7 1490.7 607.6 1492.1 614.3 1493.4 611.2 1494.8 607.5 1496.1 609.9 1497.5 611.5 1498.8 610.6 1500.2 613.6 1501.6 609.5 1502.9 608.3 1504.3 611.9 1505.6 614.1 1507.0 607.8 1508.3 606.0 1509.7 608.7 1511.0 610.3 1512.4 607.6 1513.7 610.9 1515.1 608.0 1516.5 612.9 1517.8 607.0 1519.2 607.7 1520.5 610.3 1521.9 611.8 1523.2 612.3 1524.6 607.6 1525.9 609.4 1527.3 610.6 1528.6 612.8 1530.0 606.0 1531.4 604.7 1532.7 609.2 1534.1 606.8 1535.4 611.0 1536.8 606.9 1538.1 607.4 1539.5 603.9 1540.8 606.4 1542.2 608.4 1543.6 603.4 1544.9 599.7 1546.3 604.3 1547.6 599.7 1549.0 599.4 1550.3 595.9 1551.7 599.3 1553.0 593.3 1554.4 593.0 1555.7 593.4 1557.1 592.1 1558.5 585.9 1559.8 593.3 1561.2 588.9 1562.5 593.5 1563.9 592.8 1565.2 594.8 1566.6 594.5 1567.9 594.9 1569.3 599.6 1570.6 600.8 1572.0 603.6 1573.4 602.4 1574.7 598.9 1576.1 604.1 1577.4 606.9 1578.8 602.6 1580.1 599.9 1581.5 597.6 1582.8 600.4 1584.2 595.9 1585.5 601.8 1586.9 597.9 1588.3 596.7 1589.6 598.4 1591.0 593.7 1592.3 592.0 1593.7 595.4 1595.0 599.8 1596.4 593.7 1597.7 598.4 1599.1 590.6 1600.4 595.4 1601.8 596.9 1603.2 600.4 1604.5 590.5 1605.9 595.3 1607.2 593.0 1608.6 596.5 1609.9 594.3 1611.3 596.3 1612.6 594.1 1614.0 594.9 1615.3 597.9 1616.7 601.4 1618.1 599.1 1619.4 600.8 1620.8 601.3 1622.1 608.9 1623.5 600.3 1624.8 600.5 1626.2 604.3 1627.5 608.0 1628.9 609.7 1630.2 609.0 1631.6 609.8 1633.0 608.4 1634.3 606.9 1635.7 605.5 1637.0 610.0 1638.4 606.3 1639.7 610.3 1641.1 611.4 1642.4 607.8 1643.8 608.5 1645.2 608.4 1646.5 612.0 1647.9 610.7 1649.2 608.6 1650.6 611.3 1651.9 614.9 1653.3 611.6 1654.6 611.3 1656.0 610.0 1657.3 608.6 1658.7 611.3 1660.1 611.6 1661.4 610.6 1662.8 614.8 1664.1 611.0 1665.5 611.2 1666.8 612.3 1668.2 613.2 1669.5 606.8 1670.9 612.6 1672.2 615.4 1673.6 608.8 1675.0 613.0 1676.3 610.5 1677.7 609.2 1679.0 612.7 1680.4 611.6 1681.7 606.1 1683.1 610.3 1684.4 614.2 1685.8 609.8 1687.1 609.8 1688.5 610.9 1689.9 610.6 1691.2 613.9 1692.6 609.5 1693.9 608.6 1695.3 613.0 1696.6 614.6 1698.0 613.7 1699.3 614.1 1700.7 610.0 1702.0 607.7 1703.4 609.8 1704.8 611.6 1706.1 607.0 1707.5 610.8 1708.8 613.2 1710.2 609.7 1711.5 617.1 1712.9 613.6 1714.2 608.2 1715.6 608.4 1716.9 609.5 1718.3 613.4 1719.7 612.7 1721.0 609.8 1722.4 611.8 1723.7 613.5 1725.1 612.7 1726.4 606.8 1727.8 608.2 1729.1 608.6 1730.5 606.4 1731.8 613.5 1733.2 609.3 1734.6 609.2 1735.9 608.7 1737.3 611.8 1738.6 612.5 1740.0 612.7 1741.3 614.3 1742.7 608.2 1744.0 615.3 1745.4 617.6 1746.8 609.2 1748.1 609.6 1749.5 612.3 1750.8 614.0 1752.2 609.8 1753.5 608.2 1754.9 616.2 1756.2 609.0 1757.6 602.7 1758.9 611.8 1760.3 613.0 1761.7 614.9 1763.0 615.1 1764.4 618.7 1765.7 608.5 1767.1 607.2 1768.4 605.8 1769.8 614.6 1771.1 608.5 1772.5 605.0 1773.8 603.8 1775.2 609.9 1776.6 608.2 1777.9 610.2 1779.3 606.9 1780.6 607.1 1782.0 610.4 1783.3 608.4 1784.7 610.5 1786.0 608.4 1787.4 607.9 1788.7 609.6 1790.1 607.6 1791.5 608.8 1792.8 609.5 1794.2 606.7 1795.5 607.7 1796.9 608.2 1798.2 609.6 1799.6 608.3 1800.9 608.2 1802.3 608.7 1803.6 606.4 1805.0 608.1 1806.4 604.9 1807.7 601.7 1809.1 607.8 1810.4 601.1 1811.8 606.0 1813.1 610.5 1814.5 608.1 1815.8 603.1 1817.2 607.8 1818.5 606.2 1819.9 603.0 1821.3 604.8 1822.6 603.3 1824.0 603.7 1825.3 605.2 1826.7 599.6 1828.0 606.0 1829.4 608.9 1830.7 602.6 1832.1 600.0 1833.4 601.3 1834.8 605.5 1836.2 600.4 1837.5 602.8 1838.9 607.6 1840.2 598.9 1841.6 600.9 1842.9 598.8 1844.3 599.0 1845.6 600.1 1847.0 597.3 1848.4 600.3 1849.7 599.2 1851.1 601.6 1852.4 600.0 1853.8 598.8 1855.1 601.6 1856.5 596.5 1857.8 598.6 1859.2 594.7 1860.5 600.2 1861.9 594.0 1863.3 598.5 1864.6 593.7 1866.0 596.1 1867.3 592.5 1868.7 593.2 1870.0 592.7 1871.4 596.5 1872.7 596.8 1874.1 597.6 1875.4 596.7 1876.8 595.2 1878.2 597.8 1879.5 600.5 1880.9 595.3 1882.2 594.5 1883.6 598.5 1884.9 602.8 1886.3 597.2 1887.6 596.8 1889.0 595.2 1890.3 596.3 1891.7 596.0 1893.1 596.3 1894.4 602.2 1895.8 603.0 1897.1 600.1 1898.5 600.3 1899.8 602.6 1901.2 600.6 1902.5 601.1 1903.9 602.7 1905.2 601.1 1906.6 605.1 1908.0 610.8 1909.3 602.1 1910.7 603.1 1912.0 600.3 1913.4 601.6 1914.7 603.4 1916.1 604.6 1917.4 603.2 1918.8 600.6 1920.1 605.3 1921.5 603.0 1922.9 605.8 1924.2 604.3 1925.6 604.8 1926.9 605.1 1928.3 599.6 1929.6 604.6 1931.0 603.3 1932.3 607.0 1933.7 607.7 1935.0 604.7 1936.4 602.5 1937.8 608.0 1939.1 603.7 1940.5 606.2 1941.8 607.8 1943.2 605.2 1944.5 601.8 1945.9 604.7 1947.2 608.0 1948.6 604.4 1950.0 609.1 1951.3 602.4 1952.7 604.1 1954.0 601.9 1955.4 604.1 1956.7 611.0 1958.1 608.4 1959.4 606.1 1960.8 605.1 1962.1 610.1 1963.5 606.5 1964.9 604.1 1966.2 611.2 1967.6 603.3 1968.9 607.5 1970.3 608.8 1971.6 609.7 1973.0 612.5 1974.3 609.4 1975.7 605.1 1977.0 610.3 1978.4 608.0 1979.8 603.7 1981.1 604.1 1982.5 604.9 1983.8 601.1 1985.2 608.4 1986.5 608.8 1987.9 608.6 1989.2 604.9 1990.6 607.1 1991.9 610.6 1993.3 608.3 1994.7 606.9 1996.0 605.2 1997.4 607.2 1998.7 610.9 2000.1 607.4 2001.4 613.7 2002.8 614.1 2004.1 609.4 2005.5 602.8 2006.8 606.7 2008.2 610.9 2009.6 605.8 2010.9 605.5 2012.3 607.5 2013.6 614.9 2015.0 606.1 2016.3 602.0 2017.7 608.2 2019.0 608.5 2020.4 609.5 2021.7 607.6 2023.1 608.4 2024.5 606.1 2025.8 610.1 2027.2 607.4 2028.5 608.9 2029.9 606.0 2031.2 611.3 2032.6 608.1 2033.9 606.2 2035.3 607.6 2036.6 604.3 2038.0 605.7 2039.4 609.7 2040.7 609.1 2042.1 609.7 2043.4 609.4 2044.8 606.6 2046.1 607.7 2047.5 612.6 2048.8 607.0 2050.2 603.0 2051.6 607.3 2052.9 606.1 2054.3 607.0 2055.6 607.3 2057.0 604.3 2058.3 608.4 2059.7 606.7 2061.0 608.8 2062.4 605.2 2063.7 604.3 2065.1 605.9 2066.5 611.7 2067.8 602.0 2069.2 610.1 2070.5 606.8 2071.9 610.2 2073.2 605.8 2074.6 608.0 2075.9 607.9 2077.3 612.8 2078.6 606.5 2080.0 607.4 2081.4 604.6 2082.7 607.6 2084.1 604.6 2085.4 606.4 2086.8 607.7 2088.1 608.2 2089.5 604.1 2090.8 604.1 2092.2 609.8 2093.5 605.0 2094.9 607.0 2096.3 605.7 2097.6 602.0 2099.0 606.1 2100.3 606.0 2101.7 611.3 2103.0 601.0 2104.4 604.8 2105.7 608.0 2107.1 604.7 2108.4 600.2 2109.8 607.9 2111.2 606.6 2112.5 603.7 2113.9 603.3 2115.2 604.1 2116.6 606.5 2117.9 605.4 2119.3 604.1 2120.6 606.8 2122.0 608.7 2123.3 604.1 2124.7 610.1 2126.1 605.8 2127.4 607.3 2128.8 606.7 2130.1 606.9 2131.5 606.1 2132.8 599.1 2134.2 602.6 2135.5 607.7 2136.9 602.2 2138.2 605.4 2139.6 600.6 2141.0 603.2 2142.3 609.1 2143.7 605.4 2145.0 602.2 2146.4 602.7 2147.7 599.7 2149.1 605.5 2150.4 603.5 2151.8 606.1 2153.2 606.1 2154.5 603.0 2155.9 601.0 2157.2 600.2 2158.6 602.3 2159.9 603.3 2161.3 607.0 2162.6 600.4 2164.0 604.2 2165.3 599.9 2166.7 601.0 2168.1 604.7 2169.4 603.8 2170.8 600.7 2172.1 600.3 2173.5 605.0 2174.8 601.3 2176.2 600.8 2177.5 598.6 2178.9 608.4 2180.2 606.4 2181.6 602.6 2183.0 607.2 2184.3 602.2 2185.7 599.8 2187.0 602.1 2188.4 604.4 2189.7 597.2 2191.1 603.7 2192.4 603.4 2193.8 604.1 2195.1 601.2 2196.5 602.8" stroke="#0000FF"/>
<path d="M164.5 774.5 165.9 769.9 167.2 768.2 168.6 764.4 169.9 771.6 171.3 776.0 172.6 772.6 174.0 773.9 175.3 775.3 176.7 769.9 178.0 779.8 179.4 769.9 180.8 773.4 182.1 780.0 183.5 772.0 184.8 772.6 186.2 770.8 187.5 773.2 188.9 766.2 190.2 770.4 191.6 773.9 192.9 772.7 194.3 771.4 195.7 773.1 197.0 773.2 198.4 772.5 199.7 773.6 201.1 767.4 202.4 773.6 203.8 770.1 205.1 774.2 206.5 770.0 207.8 769.1 209.2 771.7 210.6 769.1 211.9 774.7 213.3 771.8 214.6 774.2 216.0 768.7 217.3 776.3 218.7 770.9 220.0 775.6 221.4 774.2 222.8 768.7 224.1 772.6 225.5 770.2 226.8 772.9 228.2 775.7 229.5 773.6 230.9 774.7 232.2 768.4 233.6 772.2 234.9 772.6 236.3 774.7 237.7 769.9 239.0 773.2 240.4 772.8 241.7 767.3 243.1 768.7 244.4 772.8 245.8 768.3 247.1 768.1 248.5 774.1 249.8 772.3 251.2 770.9 252.6 771.8 253.9 770.4 255.3 770.0 256.6 770.2 258.0 772.6 259.3 775.2 260.7 770.2 262.0 771.3 263.4 770.9 264.7 768.0 266.1 772.2 267.5 773.9 268.8 769.1 270.2 773.8 271.5 769.9 272.9 774.7 274.2 774.9 275.6 770.4 276.9 765.9 278.3 770.5 279.6 767.6 281.0 767.8 282.4 770.8 283.7 775.3 285.1 771.3 286.4 770.9 287.8 766.4 289.1 769.8 290.5 767.6 291.8 773.0 293.2 770.1 294.5 771.5 295.9 771.5 297.3 771.1 298.6 774.3 300.0 773.0 301.3 770.7 302.7 772.1 304.0 773.2 305.4 775.5 306.7 772.0 308.1 775.7 309.4 770.0 310.8 771.0 312.2 767.6 313.5 774.0 314.9 768.9 316.2 768.9 317.6 774.1 318.9 770.3 320.3 769.7 321.6 774.5 323.0 771.3 324.4 774.4 325.7 770.7 327.1 773.9 328.4 774.9 329.8 772.1 331.1 777.0 332.5 770.8 333.8 771.4 335.2 772.2 336.5 774.8 337.9 771.2 339.3 770.8 340.6 772.7 342.0 775.6 343.3 770.9 344.7 768.5 346.0 771.7 347.4 773.9 348.7 770.6 350.1 772.5 351.4 766.9 352.8 772.3 354.2 772.5 355.5 774.0 356.9 773.1 358.2 774.4 359.6 769.5 360.9 774.2 362.3 767.7 363.6 770.7 365.0 775.5 366.3 774.8 367.7 767.2 369.1 774.1 370.4 771.2 371.8 770.3 373.1 773.0 374.5 772.9 375.8 776.4 377.2 768.5 378.5 771.3 379.9 772.2 381.2 767.4 382.6 775.9 384.0 777.5 385.3 770.9 386.7 773.7 388.0 771.9 389.4 773.5 390.7 770.8 392.1 775.1 393.4 769.5 394.8 776.6 396.1 773.8 397.5 779.6 398.9 768.3 400.2 772.6 401.6 769.3 402.9 772.6 404.3 774.2 405.6 770.4 407.0 769.0 408.3 768.2 409.7 773.7 411.0 776.7 412.4 776.5 413.8 773.3 415.1 770.5 416.5 772.2 417.8 769.1 419.2 768.9 420.5 776.3 421.9 772.6 423.2 774.3 424.6 772.7 426.0 777.2 427.3 777.5 428.7 771.3 430.0 772.5 431.4 771.7 432.7 777.3 434.1 777.1 435.4 772.8 436.8 780.1 438.1 773.7 439.5 770.2 440.9 768.0 442.2 773.3 443.6 774.6 444.9 772.0 446.3 771.5 447.6 777.0 449.0 773.5 450.3 776.1 451.7 778.4 453.0 775.1 454.4 772.1 455.8 774.9 457.1 775.2 458.5 779.6 459.8 772.4 461.2 769.2 462.5 774.4 463.9 774.4 465.2 772.3 466.6 775.1 467.9 774.3 469.3 776.8 470.7 771.0 472.0 771.4 473.4 773.2 474.7 771.8 476.1 776.8 477.4 774.8 478.8 773.0 480.1 777.3 481.5 774.4 482.8 775.8 484.2 775.2 485.6 772.4 486.9 772.4 488.3 772.8 489.6 769.6 491.0 771.7 492.3 775.0 493.7 773.4 495.0 769.8 496.4 779.0 497.7 769.4 499.1 774.0 500.5 774.2 501.8 775.7 503.2 769.7 504.5 772.1 505.9 771.4 507.2 775.1 508.6 772.9 509.9 773.0 511.3 773.3 512.6 777.2 514.0 773.5 515.4 774.1 516.7 768.9 518.1 773.4 519.4 767.9 520.8 774.0 522.1 771.7 523.5 768.8 524.8 768.0 526.2 770.8 527.6 771.4 528.9 769.4 530.3 769.9 531.6 769.9 533.0 769.2 534.3 770.1 535.7 771.3 537.0 774.1 538.4 772.1 539.7 768.7 541.1 774.7 542.5 773.4 543.8 769.3 545.2 772.7 546.5 768.3 547.9 767.6 549.2 767.6 550.6 774.0 551.9 769.8 553.3 770.2 554.6 769.4 556.0 768.0 557.4 770.4 558.7 770.8 560.1 774.3 561.4 766.4 562.8 772.9 564.1 770.4 565.5 763.6 566.8 771.1 568.2 772.8 569.5 771.2 570.9 768.8 572.3 768.5 573.6 762.4 575.0 768.7 576.3 768.3 577.7 765.1 579.0 768.2 580.4 765.7 581.7 773.8 583.1 764.0 584.4 764.8 585.8 761.2 587.2 766.0 588.5 767.4 589.9 767.0 591.2 765.1 592.6 769.3 593.9 767.4 595.3 770.0 596.6 766.3 598.0 761.6 599.3 766.1 600.7 763.6 602.1 768.7 603.4 764.6 604.8 765.6 606.1 766.1 607.5 761.9 608.8 765.0 610.2 768.4 611.5 764.3 612.9 765.4 614.2 766.3 615.6 763.9 617.0 764.9 618.3 766.9 619.7 764.5 621.0 765.7 622.4 765.1 623.7 762.5 625.1 761.8 626.4 770.9 627.8 769.1 629.2 764.9 630.5 767.9 631.9 768.3 633.2 767.8 634.6 764.1 635.9 761.0 637.3 761.5 638.6 764.3 640.0 768.7 641.3 769.3 642.7 764.2 644.1 763.9 645.4 768.2 646.8 770.5 648.1 762.1 649.5 766.0 650.8 764.7 652.2 763.7 653.5 763.7 654.9 763.6 656.2 764.4 657.6 760.1 659.0 764.3 660.3 766.5 661.7 766.3 663.0 766.3 664.4 765.0 665.7 764.5 667.1 769.3 668.4 763.3 669.8 764.2 671.1 767.1 672.5 763.6 673.9 759.8 675.2 761.7 676.6 761.9 677.9 762.6 679.3 761.6 680.6 765.5 682.0 764.5 683.3 763.7 684.7 761.1 686.0 764.9 687.4 764.6 688.8 767.8 690.1 759.8 691.5 761.0 692.8 765.0 694.2 757.9 695.5 761.4 696.9 761.1 698.2 760.4 699.6 757.4 700.9 759.9 702.3 755.3 703.7 762.5 705.0 757.5 706.4 758.9 707.7 758.0 709.1 758.1 710.4 757.4 711.8 757.7 713.1 755.0 714.5 755.6 715.8 744.0 717.2 751.5 718.6 751.5 719.9 750.6 721.3 749.1 722.6 750.7 724.0 753.8 725.3 752.8 726.7 750.2 728.0 751.8 729.4 751.6 730.8 757.7 732.1 745.5 733.5 750.4 734.8 745.7 736.2 752.5 737.5 748.1 738.9 749.7 740.2 748.7 741.6 749.8 742.9 739.4 744.3 744.0 745.7 747.1 747.0 742.8 748.4 747.7 749.7 749.3 751.1 741.8 752.4 743.9 753.8 746.4 755.1 749.3 756.5 746.6 757.8 745.4 759.2 740.5 760.6 742.6 761.9 742.4 763.3 740.0 764.6 742.3 766.0 739.8 767.3 739.0 768.7 745.6 770.0 738.7 771.4 743.8 772.7 737.0 774.1 737.2 775.5 733.4 776.8 734.6 778.2 739.9 779.5 734.9 780.9 728.5 782.2 737.3 783.6 730.0 784.9 730.4 786.3 730.4 787.6 724.1 789.0 732.4 790.4 730.4 791.7 724.5 793.1 728.2 794.4 721.8 795.8 719.5 797.1 719.0 798.5 714.2 799.8 715.6 801.2 713.6 802.5 718.9 803.9 707.9 805.3 713.9 806.6 710.6 808.0 707.3 809.3 703.4 810.7 708.3 812.0 705.4 813.4 699.3 814.7 695.6 816.1 695.6 817.4 697.8 818.8 687.7 820.2 687.9 821.5 688.4 822.9 678.9 824.2 680.2 825.6 681.3 826.9 675.0 828.3 674.0 829.6 668.1 831.0 671.5 832.4 665.3 833.7 666.0 835.1 667.1 836.4 664.5 837.8 669.0 839.1 669.8 840.5 670.8 841.8 674.2 843.2 673.2 844.5 670.0 845.9 680.7 847.3 683.2 848.6 683.1 850.0 685.8 851.3 695.4 852.7 694.9 854.0 699.3 855.4 703.1 856.7 714.4 858.1 709.1 859.4 707.0 860.8 716.8 862.2 717.1 863.5 718.0 864.9 725.9 866.2 726.7 867.6 733.3 868.9 732.4 870.3 739.0 871.6 740.7 873.0 740.3 874.3 744.6 875.7 749.7 877.1 748.9 878.4 745.1 879.8 751.4 881.1 753.7 882.5 758.4 883.8 756.1 885.2 761.0 886.5 758.5 887.9 759.8 889.2 759.8 890.6 761.1 892.0 761.3 893.3 763.2 894.7 760.7 896.0 760.4 897.4 759.2 898.7 764.6 900.1 763.5 901.4 766.1 902.8 759.7 904.1 770.4 905.5 762.0 906.9 772.0 908.2 760.3 909.6 762.3 910.9 768.3 912.3 765.3 913.6 767.6 915.0 767.6 916.3 765.6 917.7 765.8 919.0 769.0 920.4 771.5 921.8 772.6 923.1 771.8 924.5 770.8 925.8 775.4 927.2 766.4 928.5 772.8 929.9 776.6 931.2 777.9 932.6 777.0 934.0 777.6 935.3 777.0 936.7 774.6 938.0 768.2 939.4 773.1 940.7 773.8 942.1 779.0 943.4 773.5 944.8 773.8 946.1 776.6 947.5 772.2 948.9 775.0 950.2 776.5 951.6 774.1 952.9 774.9 954.3 770.2 955.6 771.7 957.0 774.5 958.3 778.4 959.7 773.6 961.0 772.7 962.4 773.1 963.8 777.1 965.1 771.4 966.5 775.8 967.8 774.4 969.2 775.6 970.5 773.4 971.9 775.7 973.2 779.3 974.6 774.7 975.9 774.2 977.3 768.4 978.7 776.9 980.0 773.8 981.4 776.7 982.7 776.0 984.1 773.5 985.4 773.9 986.8 772.0 988.1 781.3 989.5 778.4 990.8 778.1 992.2 779.2 993.6 779.7 994.9 778.3 996.3 778.8 997.6 782.9 999.0 771.3 1000.3 776.7 1001.7 774.4 1003.0 776.4 1004.4 769.2 1005.7 773.3 1007.1 778.6 1008.5 772.9 1009.8 778.0 1011.2 774.2 1012.5 776.1 1013.9 772.4 1015.2 774.9 1016.6 772.5 1017.9 778.3 1019.3 772.0 1020.6 777.8 1022.0 775.5 1023.4 776.6 1024.7 781.1 1026.1 776.5 1027.4 775.5 1028.8 777.4 1030.1 779.4 1031.5 776.0 1032.8 782.4 1034.2 778.2 1035.6 776.9 1036.9 776.1 1038.3 777.6 1039.6 779.6 1041.0 781.1 1042.3 778.5 1043.7 776.7 1045.0 778.3 1046.4 772.6 1047.7 781.7 1049.1 781.0 1050.5 778.2 1051.8 780.8 1053.2 776.2 1054.5 784.1 1055.9 778.9 1057.2 778.2 1058.6 785.4 1059.9 777.1 1061.3 781.1 1062.6 777.7 1064.0 778.7 1065.4 779.5 1066.7 778.8 1068.1 784.6 1069.4 783.6 1070.8 779.1 1072.1 787.4 1073.5 780.7 1074.8 780.4 1076.2 782.1 1077.5 778.1 1078.9 784.8 1080.3 778.6 1081.6 777.6 1083.0 784.1 1084.3 778.7 1085.7 780.5 1087.0 777.9 1088.4 780.1 1089.7 781.6 1091.1 774.7 1092.4 781.1 1093.8 779.1 1095.2 785.3 1096.5 787.0 1097.9 782.9 1099.2 783.1 1100.6 784.4 1101.9 784.4 1103.3 777.5 1104.6 777.8 1106.0 780.1 1107.3 777.6 1108.7 780.6 1110.1 781.8 1111.4 779.3 1112.8 782.8 1114.1 785.6 1115.5 781.7 1116.8 782.8 1118.2 781.5 1119.5 781.4 1120.9 780.2 1122.2 778.5 1123.6 783.2 1125.0 784.7 1126.3 781.6 1127.7 782.0 1129.0 777.9 1130.4 781.1 1131.7 782.6 1133.1 781.5 1134.4 782.0 1135.8 779.0 1137.2 778.3 1138.5 781.2 1139.9 786.0 1141.2 780.8 1142.6 777.8 1143.9 780.1 1145.3 781.4 1146.6 785.3 1148.0 785.0 1149.3 779.8 1150.7 779.2 1152.1 781.3 1153.4 782.0 1154.8 779.3 1156.1 784.7 1157.5 780.9 1158.8 782.8 1160.2 781.6 1161.5 783.6 1162.9 781.8 1164.2 782.9 1165.6 785.6 1167.0 782.9 1168.3 786.2 1169.7 778.7 1171.0 781.7 1172.4 779.4 1173.7 778.4 1175.1 782.2 1176.4 787.6 1177.8 783.0 1179.1 785.1 1180.5 777.1 1181.9 783.0 1183.2 779.2 1184.6 783.0 1185.9 785.3 1187.3 781.1 1188.6 785.4 1190.0 780.3 1191.3 782.7 1192.7 780.7 1194.0 782.7 1195.4 782.0 1196.8 776.4 1198.1 781.5 1199.5 781.1 1200.8 784.7 1202.2 775.6 1203.5 782.7 1204.9 784.8 1206.2 787.8 1207.6 786.2 1208.9 782.5 1210.3 786.6 1211.7 782.3 1213.0 782.1 1214.4 781.7 1215.7 781.6 1217.1 786.9 1218.4 778.2 1219.8 778.4 1221.1 785.3 1222.5 784.0 1223.8 785.1 1225.2 782.0 1226.6 784.6 1227.9 782.1 1229.3 781.3 1230.6 781.5 1232.0 783.1 1233.3 783.0 1234.7 781.7 1236.0 787.2 1237.4 784.0 1238.8 781.9 1240.1 779.2 1241.5 782.6 1242.8 778.4 1244.2 780.4 1245.5 779.7 1246.9 780.4 1248.2 783.4 1249.6 773.9 1250.9 786.9 1252.3 784.1 1253.7 781.6 1255.0 781.2 1256.4 784.9 1257.7 782.6 1259.1 787.7 1260.4 782.5 1261.8 780.4 1263.1 779.0 1264.5 782.7 1265.8 785.9 1267.2 779.7 1268.6 786.6 1269.9 785.4 1271.3 782.3 1272.6 786.7 1274.0 778.4 1275.3 777.2 1276.7 784.0 1278.0 784.4 1279.4 784.4 1280.7 783.2 1282.1 779.3 1283.5 784.9 1284.8 782.5 1286.2 785.9 1287.5 784.1 1288.9 780.4 1290.2 785.3 1291.6 785.9 1292.9 785.9 1294.3 781.8 1295.6 780.9 1297.0 786.1 1298.4 783.8 1299.7 783.6 1301.1 786.0 1302.4 787.0 1303.8 785.5 1305.1 783.6 1306.5 788.4 1307.8 781.4 1309.2 784.3 1310.5 785.3 1311.9 780.6 1313.3 782.5 1314.6 787.0 1316.0 784.4 1317.3 778.9 1318.7 789.4 1320.0 785.3 1321.4 785.1 1322.7 790.0 1324.1 780.8 1325.4 783.5 1326.8 782.5 1328.2 788.8 1329.5 782.9 1330.9 791.8 1332.2 786.6 1333.6 786.2 1334.9 788.1 1336.3 784.8 1337.6 783.0 1339.0 783.9 1340.4 785.7 1341.7 782.9 1343.1 786.1 1344.4 784.0 1345.8 785.2 1347.1 785.6 1348.5 790.3 1349.8 792.4 1351.2 791.3 1352.5 785.9 1353.9 784.5 1355.3 789.5 1356.6 790.3 1358.0 789.3 1359.3 785.1 1360.7 787.7 1362.0 786.1 1363.4 789.8 1364.7 789.6 1366.1 787.6 1367.4 785.9 1368.8 792.0 1370.2 791.7 1371.5 789.5 1372.9 788.8 1374.2 789.5 1375.6 790.6 1376.9 786.4 1378.3 786.2 1379.6 789.2 1381.0 778.5 1382.3 787.3 1383.7 786.2 1385.1 789.6 1386.4 788.6 1387.8 787.1 1389.1 784.4 1390.5 787.2 1391.8 786.9 1393.2 788.0 1394.5 788.4 1395.9 785.8 1397.2 789.3 1398.6 786.4 1400.0 789.0 1401.3 788.7 1402.7 791.4 1404.0 787.9 1405.4 792.5 1406.7 787.0 1408.1 785.6 1409.4 789.9 1410.8 784.6 1412.1 789.1 1413.5 789.2 1414.9 788.7 1416.2 789.3 1417.6 788.8 1418.9 791.8 1420.3 787.9 1421.6 782.8 1423.0 787.3 1424.3 790.6 1425.7 791.1 1427.0 790.3 1428.4 788.5 1429.8 785.8 1431.1 792.8 1432.5 786.8 1433.8 785.4 1435.2 781.7 1436.5 793.8 1437.9 788.5 1439.2 783.3 1440.6 795.9 1442.0 790.4 1443.3 783.8 1444.7 790.7 1446.0 788.6 1447.4 790.4 1448.7 792.4 1450.1 787.4 1451.4 794.7 1452.8 788.3 1454.1 786.9 1455.5 791.9 1456.9 786.7 1458.2 787.6 1459.6 790.9 1460.9 786.1 1462.3 784.8 1463.6 789.3 1465.0 788.5 1466.3 786.9 1467.7 791.1 1469.0 785.2 1470.4 790.6 1471.8 785.5 1473.1 789.8 1474.5 785.1 1475.8 790.3 1477.2 788.3 1478.5 787.2 1479.9 788.6 1481.2 788.0 1482.6 790.7 1483.9 786.5 1485.3 789.6 1486.7 787.5 1488.0 786.7 1489.4 787.0 1490.7 785.3 1492.1 789.3 1493.4 788.6 1494.8 789.3 1496.1 783.9 1497.5 787.1 1498.8 792.5 1500.2 791.7 1501.6 788.0 1502.9 788.4 1504.3 788.9 1505.6 791.4 1507.0 792.5 1508.3 789.3 1509.7 789.2 1511.0 788.5 1512.4 789.5 1513.7 793.5 1515.1 786.8 1516.5 790.4 1517.8 785.4 1519.2 785.6 1520.5 784.0 1521.9 786.9 1523.2 792.7 1524.6 793.1 1525.9 790.8 1527.3 788.5 1528.6 791.5 1530.0 785.7 1531.4 784.7 1532.7 786.2 1534.1 788.0 1535.4 783.5 1536.8 786.4 1538.1 793.2 1539.5 788.0 1540.8 787.4 1542.2 786.7 1543.6 790.5 1544.9 790.3 1546.3 788.8 1547.6 788.0 1549.0 782.5 1550.3 784.4 1551.7 787.3 1553.0 786.9 1554.4 787.6 1555.7 787.1 1557.1 793.4 1558.5 791.5 1559.8 785.4 1561.2 790.5 1562.5 789.5 1563.9 788.3 1565.2 787.7 1566.6 789.4 1567.9 793.5 1569.3 786.9 1570.6 787.9 1572.0 788.1 1573.4 783.7 1574.7 788.4 1576.1 786.1 1577.4 789.1 1578.8 789.5 1580.1 793.4 1581.5 787.9 1582.8 787.7 1584.2 790.5 1585.5 794.0 1586.9 789.0 1588.3 789.9 1589.6 790.1 1591.0 790.0 1592.3 787.2 1593.7 786.4 1595.0 786.7 1596.4 787.6 1597.7 789.4 1599.1 786.2 1600.4 786.5 1601.8 788.6 1603.2 788.2 1604.5 788.9 1605.9 785.2 1607.2 793.8 1608.6 788.0 1609.9 787.9 1611.3 786.2 1612.6 789.8 1614.0 791.4 1615.3 788.5 1616.7 788.3 1618.1 787.9 1619.4 794.7 1620.8 790.2 1622.1 787.4 1623.5 789.0 1624.8 791.5 1626.2 789.0 1627.5 789.4 1628.9 789.1 1630.2 788.1 1631.6 790.2 1633.0 793.1 1634.3 790.0 1635.7 787.8 1637.0 786.4 1638.4 788.5 1639.7 787.2 1641.1 786.4 1642.4 790.4 1643.8 789.5 1645.2 791.6 1646.5 790.0 1647.9 787.7 1649.2 791.3 1650.6 789.8 1651.9 792.5 1653.3 786.1 1654.6 787.8 1656.0 789.0 1657.3 793.0 1658.7 790.1 1660.1 785.7 1661.4 786.3 1662.8 790.3 1664.1 784.6 1665.5 787.0 1666.8 788.4 1668.2 787.8 1669.5 789.6 1670.9 791.0 1672.2 789.5 1673.6 785.3 1675.0 792.3 1676.3 791.6 1677.7 786.6 1679.0 787.9 1680.4 785.2 1681.7 792.5 1683.1 787.5 1684.4 789.9 1685.8 790.1 1687.1 792.2 1688.5 789.1 1689.9 787.9 1691.2 790.4 1692.6 791.4 1693.9 787.4 1695.3 788.6 1696.6 784.7 1698.0 792.6 1699.3 787.0 1700.7 791.5 1702.0 791.2 1703.4 790.9 1704.8 791.4 1706.1 786.7 1707.5 789.4 1708.8 786.9 1710.2 788.5 1711.5 786.8 1712.9 795.3 1714.2 789.5 1715.6 791.6 1716.9 787.1 1718.3 793.7 1719.7 788.7 1721.0 788.4 1722.4 788.1 1723.7 784.7 1725.1 783.5 1726.4 789.4 1727.8 786.0 1729.1 788.2 1730.5 794.2 1731.8 788.0 1733.2 794.3 1734.6 789.7 1735.9 785.8 1737.3 790.3 1738.6 791.7 1740.0 790.8 1741.3 786.8 1742.7 785.8 1744.0 791.0 1745.4 793.7 1746.8 793.4 1748.1 787.6 1749.5 788.0 1750.8 789.3 1752.2 791.6 1753.5 789.8 1754.9 786.2 1756.2 788.6 1757.6 781.4 1758.9 785.2 1760.3 788.9 1761.7 784.3 1763.0 794.0 1764.4 786.3 1765.7 790.3 1767.1 791.0 1768.4 791.5 1769.8 785.2 1771.1 787.8 1772.5 792.5 1773.8 788.5 1775.2 790.5 1776.6 781.6 1777.9 789.3 1779.3 788.6 1780.6 787.8 1782.0 783.2 1783.3 786.0 1784.7 787.3 1786.0 786.9 1787.4 784.9 1788.7 790.9 1790.1 790.5 1791.5 786.9 1792.8 791.8 1794.2 784.5 1795.5 788.6 1796.9 792.2 1798.2 789.3 1799.6 787.2 1800.9 789.0 1802.3 787.3 1803.6 786.0 1805.0 792.0 1806.4 787.5 1807.7 787.0 1809.1 788.2 1810.4 785.0 1811.8 788.0 1813.1 789.8 1814.5 785.5 1815.8 791.5 1817.2 785.0 1818.5 785.0 1819.9 785.3 1821.3 783.5 1822.6 782.6 1824.0 783.5 1825.3 786.0 1826.7 784.4 1828.0 790.6 1829.4 786.0 1830.7 785.3 1832.1 784.9 1833.4 787.6 1834.8 786.6 1836.2 787.2 1837.5 788.5 1838.9 790.4 1840.2 783.8 1841.6 788.1 1842.9 786.3 1844.3 786.8 1845.6 784.5 1847.0 787.7 1848.4 787.6 1849.7 786.8 1851.1 783.6 1852.4 787.5 1853.8 782.8 1855.1 781.1 1856.5 787.3 1857.8 784.6 1859.2 780.4 1860.5 782.6 1861.9 784.4 1863.3 786.8 1864.6 783.4 1866.0 781.6 1867.3 780.8 1868.7 779.9 1870.0 783.0 1871.4 781.2 1872.7 784.9 1874.1 781.2 1875.4 785.9 1876.8 782.5 1878.2 783.1 1879.5 782.8 1880.9 782.7 1882.2 787.6 1883.6 781.4 1884.9 782.0 1886.3 782.8 1887.6 785.4 1889.0 781.0 1890.3 787.7 1891.7 781.4 1893.1 782.6 1894.4 784.5 1895.8 784.8 1897.1 782.0 1898.5 787.0 1899.8 789.7 1901.2 784.8 1902.5 787.1 1903.9 787.1 1905.2 792.2 1906.6 786.0 1908.0 786.7 1909.3 784.9 1910.7 786.6 1912.0 785.0 1913.4 784.9 1914.7 785.2 1916.1 788.4 1917.4 785.1 1918.8 788.3 1920.1 785.7 1921.5 789.3 1922.9 783.0 1924.2 783.2 1925.6 788.0 1926.9 790.4 1928.3 785.2 1929.6 780.8 1931.0 789.5 1932.3 787.9 1933.7 784.7 1935.0 790.5 1936.4 790.4 1937.8 785.2 1939.1 785.8 1940.5 788.7 1941.8 788.7 1943.2 790.7 1944.5 788.4 1945.9 792.4 1947.2 786.1 1948.6 784.7 1950.0 785.5 1951.3 785.1 1952.7 786.9 1954.0 785.0 1955.4 789.4 1956.7 790.5 1958.1 791.7 1959.4 786.0 1960.8 784.0 1962.1 786.4 1963.5 787.6 1964.9 786.2 1966.2 788.7 1967.6 788.8 1968.9 788.4 1970.3 785.2 1971.6 789.8 1973.0 785.2 1974.3 781.0 1975.7 787.0 1977.0 790.6 1978.4 787.3 1979.8 783.0 1981.1 786.4 1982.5 790.4 1983.8 787.7 1985.2 786.9 1986.5 784.0 1987.9 787.1 1989.2 785.4 1990.6 791.2 1991.9 788.1 1993.3 789.5 1994.7 782.9 1996.0 787.2 1997.4 789.5 1998.7 791.8 2000.1 790.8 2001.4 785.2 2002.8 795.1 2004.1 786.9 2005.5 786.5 2006.8 786.5 2008.2 784.4 2009.6 786.4 2010.9 785.5 2012.3 786.1 2013.6 785.5 2015.0 786.6 2016.3 789.1 2017.7 785.4 2019.0 784.1 2020.4 788.8 2021.7 787.2 2023.1 789.1 2024.5 784.8 2025.8 787.0 2027.2 785.1 2028.5 783.7 2029.9 785.9 2031.2 789.4 2032.6 788.1 2033.9 784.1 2035.3 789.2 2036.6 790.1 2038.0 788.1 2039.4 786.1 2040.7 785.0 2042.1 789.9 2043.4 785.0 2044.8 790.7 2046.1 782.3 2047.5 782.1 2048.8 788.4 2050.2 783.9 2051.6 789.9 2052.9 786.1 2054.3 785.9 2055.6 788.1 2057.0 790.2 2058.3 789.5 2059.7 786.8 2061.0 786.4 2062.4 789.5 2063.7 785.2 2065.1 784.8 2066.5 784.9 2067.8 796.1 2069.2 791.4 2070.5 788.8 2071.9 786.6 2073.2 789.0 2074.6 783.3 2075.9 786.9 2077.3 790.1 2078.6 788.2 2080.0 784.6 2081.4 787.5 2082.7 787.1 2084.1 791.4 2085.4 789.9 2086.8 788.2 2088.1 793.6 2089.5 786.5 2090.8 791.0 2092.2 789.1 2093.5 787.6 2094.9 786.6 2096.3 789.3 2097.6 792.0 2099.0 783.6 2100.3 788.2 2101.7 790.4 2103.0 785.8 2104.4 786.0 2105.7 791.7 2107.1 787.3 2108.4 786.9 2109.8 789.0 2111.2 788.7 2112.5 789.4 2113.9 789.4 2115.2 791.8 2116.6 788.9 2117.9 790.3 2119.3 785.8 2120.6 788.5 2122.0 786.5 2123.3 791.7 2124.7 788.7 2126.1 791.1 2127.4 787.3 2128.8 785.4 2130.1 789.9 2131.5 787.4 2132.8 783.9 2134.2 787.0 2135.5 785.7 2136.9 791.5 2138.2 787.5 2139.6 789.6 2141.0 789.1 2142.3 791.0 2143.7 788.9 2145.0 789.1 2146.4 788.8 2147.7 784.1 2149.1 787.6 2150.4 784.3 2151.8 784.3 2153.2 787.6 2154.5 782.6 2155.9 786.6 2157.2 789.8 2158.6 786.9 2159.9 789.0 2161.3 784.1 2162.6 786.7 2164.0 779.8 2165.3 783.7 2166.7 784.8 2168.1 791.3 2169.4 791.9 2170.8 781.4 2172.1 785.4 2173.5 784.5 2174.8 790.8 2176.2 788.8 2177.5 785.5 2178.9 788.6 2180.2 789.6 2181.6 784.7 2183.0 789.1 2184.3 787.9 2185.7 788.4 2187.0 781.8 2188.4 786.2 2189.7 780.0 2191.1 787.2 2192.4 784.2 2193.8 789.9 2195.1 790.2 2196.5 781.7" stroke="#FF0000"/>
<path d="M164.5 1046.8 165.9 1048.2 167.2 1051.9 168.6 1049.3 169.9 1052.2 171.3 1053.0 172.6 1046.7 174.0 1053.6 175.3 1049.0 176.7 1056.6 178.0 1052.7 179.4 1049.2 180.8 1051.2 182.1 1051.2 183.5 1051.6 184.8 1054.5 186.2 1052.1 187.5 1055.2 188.9 1052.4 190.2 1050.1 191.6 1046.3 192.9 1046.2 194.3 1051.1 195.7 1052.4 197.0 1054.5 198.4 1048.8 199.7 1050.7 201.1 1048.2 202.4 1049.3 203.8 1044.0 205.1 1052.5 206.5 1048.4 207.8 1050.2 209.2 1051.6 210.6 1051.3 211.9 1046.7 213.3 1054.6 214.6 1052.4 216.0 1051.7 217.3 1048.4 218.7 1045.8 220.0 1045.7 221.4 1049.7 222.8 1050.7 224.1 1048.2 225.5 1055.3 226.8 1051.0 228.2 1053.0 229.5 1052.7 230.9 1047.2 232.2 1052.9 233.6 1051.4 234.9 1046.6 236.3 1052.1 237.7 1053.1 239.0 1052.8 240.4 1053.0 241.7 1046.1 243.1 1049.3 244.4 1048.5 245.8 1050.1 247.1 1050.3 248.5 1053.1 249.8 1052.1 251.2 1047.6 252.6 1052.4 253.9 1054.5 255.3 1050.8 256.6 1045.7 258.0 1048.1 259.3 1049.4 260.7 1045.3 262.0 1049.4 263.4 1046.2 264.7 1052.0 266.1 1051.7 267.5 1049.6 268.8 1046.2 270.2 1050.6 271.5 1047.9 272.9 1047.8 274.2 1052.8 275.6 1047.6 276.9 1045.8 278.3 1051.9 279.6 1054.6 281.0 1054.1 282.4 1051.8 283.7 1055.5 285.1 1048.6 286.4 1055.7 287.8 1055.4 289.1 1048.6 290.5 1050.7 291.8 1045.9 293.2 1046.6 294.5 1051.1 295.9 1046.2 297.3 1050.1 298.6 1050.7 300.0 1049.8 301.3 1052.2 302.7 1054.9 304.0 1049.9 305.4 1052.2 306.7 1053.6 308.1 1048.1 309.4 1047.5 310.8 1042.6 312.2 1050.6 313.5 1052.3 314.9 1050.6 316.2 1055.2 317.6 1053.6 318.9 1051.6 320.3 1049.2 321.6 1046.9 323.0 1049.6 324.4 1050.7 325.7 1050.7 327.1 1048.4 328.4 1048.2 329.8 1051.2 331.1 1044.5 332.5 1048.4 333.8 1049.4 335.2 1051.2 336.5 1051.2 337.9 1048.6 339.3 1047.6 340.6 1045.9 342.0 1052.5 343.3 1050.8 344.7 1049.7 346.0 1047.1 347.4 1046.0 348.7 1052.4 350.1 1049.1 351.4 1050.4 352.8 1054.2 354.2 1044.8 355.5 1046.9 356.9 1050.1 358.2 1050.8 359.6 1046.1 360.9 1048.8 362.3 1047.3 363.6 1047.4 365.0 1050.1 366.3 1049.5 367.7 1052.3 369.1 1050.7 370.4 1053.1 371.8 1046.6 373.1 1050.1 374.5 1044.9 375.8 1044.2 377.2 1044.9 378.5 1050.8 379.9 1049.4 381.2 1044.2 382.6 1052.4 384.0 1051.5 385.3 1048.2 386.7 1048.0 388.0 1048.7 389.4 1045.2 390.7 1055.2 392.1 1047.3 393.4 1048.1 394.8 1047.7 396.1 1046.7 397.5 1046.0 398.9 1049.5 400.2 1045.1 401.6 1045.6 402.9 1046.2 404.3 1050.7 405.6 1045.6 407.0 1045.6 408.3 1049.3 409.7 1045.2 411.0 1047.4 412.4 1050.8 413.8 1049.5 415.1 1048.4 416.5 1052.5 417.8 1047.1 419.2 1046.5 420.5 1043.3 421.9 1048.3 423.2 1049.9 424.6 1046.2 426.0 1053.4 427.3 1050.9 428.7 1050.6 430.0 1044.6 431.4 1048.8 432.7 1049.0 434.1 1042.2 435.4 1047.8 436.8 1047.1 438.1 1042.9 439.5 1049.1 440.9 1053.4 442.2 1049.7 443.6 1045.1 444.9 1046.7 446.3 1050.5 447.6 1044.9 449.0 1048.2 450.3 1047.2 451.7 1047.6 453.0 1051.6 454.4 1042.6 455.8 1050.1 457.1 1047.5 458.5 1046.4 459.8 1041.9 461.2 1047.3 462.5 1045.2 463.9 1038.0 465.2 1042.3 466.6 1042.7 467.9 1043.1 469.3 1044.1 470.7 1043.4 472.0 1050.0 473.4 1048.5 474.7 1045.2 476.1 1049.2 477.4 1051.2 478.8 1046.5 480.1 1041.3 481.5 1045.9 482.8 1048.8 484.2 1041.8 485.6 1044.5 486.9 1047.1 488.3 1047.7 489.6 1046.6 491.0 1045.2 492.3 1043.6 493.7 1042.3 495.0 1046.6 496.4 1046.3 497.7 1042.2 499.1 1041.5 500.5 1046.9 501.8 1046.0 503.2 1041.0 504.5 1038.4 505.9 1043.3 507.2 1045.1 508.6 1045.4 509.9 1044.9 511.3 1038.2 512.6 1042.5 514.0 1041.2 515.4 1040.1 516.7 1049.5 518.1 1042.0 519.4 1042.6 520.8 1040.9 522.1 1043.6 523.5 1044.8 524.8 1040.7 526.2 1041.3 527.6 1040.0 528.9 1038.2 530.3 1040.5 531.6 1041.9 533.0 1040.8 534.3 1040.0 535.7 1035.3 537.0 1041.4 538.4 1040.8 539.7 1044.5 541.1 1038.3 542.5 1036.1 543.8 1034.4 545.2 1037.9 546.5 1039.4 547.9 1040.2 549.2 1034.9 550.6 1037.6 551.9 1041.9 553.3 1039.2 554.6 1037.9 556.0 1037.7 557.4 1034.2 558.7 1034.6 560.1 1036.9 561.4 1041.7 562.8 1041.4 564.1 1037.6 565.5 1039.7 566.8 1039.0 568.2 1040.9 569.5 1035.6 570.9 1038.2 572.3 1040.0 573.6 1033.7 575.0 1024.9 576.3 1037.7 577.7 1038.0 579.0 1038.2 580.4 1038.3 581.7 1039.3 583.1 1040.3 584.4 1037.3 585.8 1042.3 587.2 1034.7 588.5 1035.4 589.9 1036.7 591.2 1033.5 592.6 1031.4 593.9 1031.8 595.3 1038.6 596.6 1033.4 598.0 1031.3 599.3 1040.3 600.7 1035.9 602.1 1035.3 603.4 1031.9 604.8 1035.2 606.1 1032.9 607.5 1034.9 608.8 1034.0 610.2 1033.3 611.5 1034.4 612.9 1031.2 614.2 1032.4 615.6 1031.2 617.0 1034.4 618.3 1035.1 619.7 1035.2 621.0 1027.4 622.4 1037.5 623.7 1031.9 625.1 1032.1 626.4 1032.1 627.8 1032.0 629.2 1035.5 630.5 1032.2 631.9 1032.5 633.2 1034.2 634.6 1035.1 635.9 1028.4 637.3 1027.7 638.6 1025.5 640.0 1025.4 641.3 1031.4 642.7 1030.7 644.1 1030.1 645.4 1031.0 646.8 1030.7 648.1 1033.0 649.5 1034.2 650.8 1026.9 652.2 1033.1 653.5 1031.7 654.9 1026.2 656.2 1028.6 657.6 1026.5 659.0 1022.6 660.3 1027.1 661.7 1022.0 663.0 1026.3 664.4 1022.8 665.7 1024.3 667.1 1027.0 668.4 1024.6 669.8 1021.6 671.1 1024.0 672.5 1024.9 673.9 1025.2 675.2 1019.7 676.6 1024.7 677.9 1020.7 679.3 1019.2 680.6 1023.6 682.0 1021.7 683.3 1021.5 684.7 1019.7 686.0 1014.0 687.4 1020.0 688.8 1020.0 690.1 1017.8 691.5 1022.6 692.8 1018.0 694.2 1022.1 695.5 1020.4 696.9 1015.0 698.2 1014.3 699.6 1015.4 700.9 1015.8 702.3 1017.5 703.7 1013.5 705.0 1011.8 706.4 1020.3 707.7 1013.8 709.1 1013.8 710.4 1017.1 711.8 1011.6 713.1 1003.8 714.5 1010.5 715.8 1006.4 717.2 1009.8 718.6 1000.9 719.9 1005.4 721.3 1006.1 722.6 1006.9 724.0 1004.8 725.3 1003.9 726.7 1000.4 728.0 999.5 729.4 996.0 730.8 1000.7 732.1 1001.5 733.5 997.9 734.8 992.9 736.2 990.4 737.5 991.9 738.9 996.6 740.2 991.6 741.6 987.2 742.9 987.7 744.3 989.7 745.7 984.3 747.0 983.4 748.4 981.8 749.7 979.3 751.1 985.7 752.4 976.5 753.8 977.8 755.1 978.6 756.5 973.0 757.8 970.2 759.2 968.8 760.6 967.0 761.9 964.2 763.3 961.2 764.6 959.0 766.0 958.1 767.3 960.3 768.7 952.0 770.0 953.1 771.4 948.2 772.7 944.0 774.1 941.5 775.5 943.4 776.8 936.7 778.2 939.1 779.5 934.3 780.9 937.0 782.2 926.0 783.6 927.5 784.9 923.2 786.3 916.0 787.6 906.5 789.0 903.5 790.4 897.9 791.7 892.2 793.1 890.3 794.4 882.7 795.8 878.7 797.1 876.1 798.5 867.6 799.8 861.6 801.2 857.8 802.5 850.4 803.9 840.2 805.3 840.2 806.6 836.3 808.0 828.6 809.3 822.1 810.7 824.5 812.0 817.8 813.4 817.9 814.7 814.4 816.1 816.0 817.4 814.4 818.8 818.5 820.2 824.3 821.5 824.6 822.9 833.5 824.2 839.5 825.6 837.7 826.9 846.8 828.3 857.4 829.6 869.0 831.0 871.1 832.4 876.6 833.7 883.9 835.1 897.1 836.4 904.7 837.8 910.2 839.1 920.4 840.5 925.5 841.8 936.3 843.2 935.6 844.5 944.4 845.9 955.0 847.3 956.6 848.6 962.6 850.0 970.6 851.3 982.3 852.7 982.5 854.0 989.5 855.4 986.4 856.7 991.5 858.1 996.9 859.4 998.6 860.8 999.6 862.2 998.2 863.5 1009.2 864.9 1013.1 866.2 1015.1 867.6 1011.4 868.9 1013.8 870.3 1017.7 871.6 1017.8 873.0 1024.8 874.3 1019.9 875.7 1023.0 877.1 1021.8 878.4 1020.8 879.8 1029.2 881.1 1027.6 882.5 1025.9 883.8 1028.6 885.2 1023.1 886.5 1034.2 887.9 1027.5 889.2 1025.7 890.6 1028.6 892.0 1032.7 893.3 1032.6 894.7 1034.9 896.0 1035.4 897.4 1034.0 898.7 1037.2 900.1 1029.6 901.4 1036.4 902.8 1036.8 904.1 1036.8 905.5 1035.7 906.9 1035.1 908.2 1035.2 909.6 1032.5 910.9 1036.1 912.3 1040.9 913.6 1042.2 915.0 1037.1 916.3 1037.3 917.7 1037.6 919.0 1038.9 920.4 1039.6 921.8 1041.2 923.1 1044.1 924.5 1034.7 925.8 1037.6 927.2 1039.4 928.5 1040.8 929.9 1042.3 931.2 1046.3 932.6 1038.9 934.0 1043.5 935.3 1041.6 936.7 1042.2 938.0 1043.0 939.4 1044.7 940.7 1042.8 942.1 1039.5 943.4 1044.0 944.8 1044.2 946.1 1038.7 947.5 1044.3 948.9 1043.0 950.2 1042.9 951.6 1043.7 952.9 1048.4 954.3 1039.1 955.6 1044.3 957.0 1038.7 958.3 1044.1 959.7 1046.7 961.0 1039.2 962.4 1047.6 963.8 1045.8 965.1 1044.3 966.5 1044.2 967.8 1044.8 969.2 1045.1 970.5 1048.7 971.9 1048.1 973.2 1047.5 974.6 1042.9 975.9 1048.5 977.3 1050.7 978.7 1050.3 980.0 1046.7 981.4 1041.6 982.7 1044.6 984.1 1045.8 985.4 1046.0 986.8 1042.3 988.1 1048.1 989.5 1049.1 990.8 1042.9 992.2 1044.7 993.6 1044.0 994.9 1047.0 996.3 1050.2 997.6 1041.3 999.0 1051.6 1000.3 1050.0 1001.7 1043.8 1003.0 1052.0 1004.4 1050.9 1005.7 1049.1 1007.1 1048.6 1008.5 1045.3 1009.8 1049.2 1011.2 1045.6 1012.5 1048.2 1013.9 1051.0 1015.2 1047.1 1016.6 1046.5 1017.9 1049.8 1019.3 1051.0 1020.6 1051.2 1022.0 1047.9 1023.4 1052.5 1024.7 1053.2 1026.1 1047.8 1027.4 1050.4 1028.8 1043.9 1030.1 1048.5 1031.5 1046.0 1032.8 1049.4 1034.2 1047.3 1035.6 1042.6 1036.9 1047.0 1038.3 1046.4 1039.6 1052.6 1041.0 1053.4 1042.3 1051.1 1043.7 1049.3 1045.0 1050.3 1046.4 1045.7 1047.7 1050.0 1049.1 1052.5 1050.5 1051.8 1051.8 1047.0 1053.2 1054.2 1054.5 1051.5 1055.9 1047.5 1057.2 1051.5 1058.6 1047.6 1059.9 1049.0 1061.3 1050.5 1062.6 1055.7 1064.0 1057.5 1065.4 1046.4 1066.7 1050.5 1068.1 1050.3 1069.4 1052.6 1070.8 1051.9 1072.1 1049.2 1073.5 1051.9 1074.8 1049.3 1076.2 1048.8 1077.5 1052.8 1078.9 1047.3 1080.3 1049.7 1081.6 1053.2 1083.0 1050.4 1084.3 1049.4 1085.7 1051.3 1087.0 1053.4 1088.4 1050.0 1089.7 1055.9 1091.1 1051.2 1092.4 1052.8 1093.8 1054.2 1095.2 1052.1 1096.5 1050.4 1097.9 1051.7 1099.2 1055.0 1100.6 1055.9 1101.9 1054.2 1103.3 1051.3 1104.6 1049.9 1106.0 1051.1 1107.3 1051.5 1108.7 1053.5 1110.1 1052.9 1111.4 1050.8 1112.8 1055.0 1114.1 1051.1 1115.5 1053.4 1116.8 1051.2 1118.2 1056.3 1119.5 1054.6 1120.9 1054.1 1122.2 1056.6 1123.6 1056.3 1125.0 1050.2 1126.3 1054.3 1127.7 1051.0 1129.0 1052.3 1130.4 1052.8 1131.7 1050.1 1133.1 1050.7 1134.4 1054.4 1135.8 1054.5 1137.2 1055.7 1138.5 1053.9 1139.9 1053.3 1141.2 1053.6 1142.6 1053.6 1143.9 1052.4 1145.3 1054.9 1146.6 1052.1 1148.0 1051.9 1149.3 1050.6 1150.7 1055.1 1152.1 1053.0 1153.4 1054.2 1154.8 1055.2 1156.1 1052.6 1157.5 1055.6 1158.8 1060.2 1160.2 1055.1 1161.5 1050.1 1162.9 1058.2 1164.2 1056.8 1165.6 1057.1 1167.0 1060.3 1168.3 1052.8 1169.7 1061.0 1171.0 1055.2 1172.4 1058.3 1173.7 1059.2 1175.1 1053.2 1176.4 1056.9 1177.8 1058.6 1179.1 1057.4 1180.5 1052.3 1181.9 1061.0 1183.2 1057.6 1184.6 1055.8 1185.9 1054.2 1187.3 1060.3 1188.6 1055.3 1190.0 1058.9 1191.3 1053.6 1192.7 1058.3 1194.0 1051.8 1195.4 1057.9 1196.8 1054.3 1198.1 1054.3 1199.5 1059.6 1200.8 1059.0 1202.2 1055.5 1203.5 1055.2 1204.9 1060.2 1206.2 1053.2 1207.6 1056.6 1208.9 1055.5 1210.3 1057.5 1211.7 1057.4 1213.0 1057.2 1214.4 1054.4 1215.7 1058.4 1217.1 1059.1 1218.4 1056.7 1219.8 1062.6 1221.1 1056.8 1222.5 1058.1 1223.8 1063.5 1225.2 1057.4 1226.6 1057.9 1227.9 1054.3 1229.3 1058.4 1230.6 1057.3 1232.0 1059.3 1233.3 1055.6 1234.7 1061.9 1236.0 1060.1 1237.4 1061.2 1238.8 1057.9 1240.1 1054.1 1241.5 1059.9 1242.8 1059.0 1244.2 1057.8 1245.5 1063.7 1246.9 1060.1 1248.2 1059.8 1249.6 1060.7 1250.9 1060.5 1252.3 1060.7 1253.7 1061.8 1255.0 1060.1 1256.4 1058.6 1257.7 1057.7 1259.1 1060.6 1260.4 1061.4 1261.8 1062.3 1263.1 1058.0 1264.5 1056.2 1265.8 1056.4 1267.2 1064.4 1268.6 1062.1 1269.9 1060.5 1271.3 1059.8 1272.6 1066.7 1274.0 1062.9 1275.3 1062.8 1276.7 1059.5 1278.0 1064.2 1279.4 1060.0 1280.7 1059.0 1282.1 1064.9 1283.5 1062.2 1284.8 1063.2 1286.2 1057.4 1287.5 1060.4 1288.9 1059.2 1290.2 1062.2 1291.6 1061.3 1292.9 1061.6 1294.3 1059.6 1295.6 1065.6 1297.0 1058.3 1298.4 1063.1 1299.7 1061.8 1301.1 1064.8 1302.4 1059.4 1303.8 1064.9 1305.1 1049.3 1306.5 1062.9 1307.8 1061.7 1309.2 1068.8 1310.5 1058.8 1311.9 1060.5 1313.3 1057.4 1314.6 1059.6 1316.0 1061.9 1317.3 1061.4 1318.7 1060.2 1320.0 1060.7 1321.4 1062.0 1322.7 1062.9 1324.1 1067.2 1325.4 1063.8 1326.8 1062.6 1328.2 1061.8 1329.5 1064.7 1330.9 1066.5 1332.2 1062.2 1333.6 1065.6 1334.9 1064.4 1336.3 1057.2 1337.6 1068.3 1339.0 1065.7 1340.4 1059.3 1341.7 1057.8 1343.1 1063.8 1344.4 1061.9 1345.8 1064.7 1347.1 1062.2 1348.5 1066.7 1349.8 1061.8 1351.2 1064.6 1352.5 1065.3 1353.9 1062.7 1355.3 1066.0 1356.6 1063.9 1358.0 1063.5 1359.3 1063.0 1360.7 1057.0 1362.0 1060.8 1363.4 1068.7 1364.7 1062.6 1366.1 1061.4 1367.4 1063.1 1368.8 1063.0 1370.2 1069.4 1371.5 1060.6 1372.9 1061.7 1374.2 1065.4 1375.6 1058.8 1376.9 1059.2 1378.3 1060.2 1379.6 1061.7 1381.0 1066.5 1382.3 1067.3 1383.7 1065.1 1385.1 1069.1 1386.4 1058.5 1387.8 1066.6 1389.1 1061.8 1390.5 1065.0 1391.8 1062.9 1393.2 1059.7 1394.5 1066.9 1395.9 1067.7 1397.2 1064.4 1398.6 1061.5 1400.0 1069.3 1401.3 1057.3 1402.7 1064.3 1404.0 1061.3 1405.4 1061.8 1406.7 1066.4 1408.1 1062.5 1409.4 1066.5 1410.8 1064.5 1412.1 1067.6 1413.5 1066.4 1414.9 1066.1 1416.2 1063.9 1417.6 1063.6 1418.9 1061.1 1420.3 1065.0 1421.6 1065.8 1423.0 1061.9 1424.3 1064.8 1425.7 1061.6 1427.0 1063.7 1428.4 1060.8 1429.8 1063.8 1431.1 1066.7 1432.5 1064.5 1433.8 1059.0 1435.2 1065.6 1436.5 1062.8 1437.9 1067.3 1439.2 1065.7 1440.6 1065.7 1442.0 1062.9 1443.3 1064.2 1444.7 1061.7 1446.0 1064.0 1447.4 1065.9 1448.7 1059.7 1450.1 1062.9 1451.4 1065.8 1452.8 1060.9 1454.1 1063.3 1455.5 1065.1 1456.9 1064.7 1458.2 1065.4 1459.6 1065.9 1460.9 1067.1 1462.3 1062.9 1463.6 1065.1 1465.0 1064.9 1466.3 1060.5 1467.7 1062.7 1469.0 1065.8 1470.4 1064.8 1471.8 1065.7 1473.1 1063.7 1474.5 1063.7 1475.8 1066.4 1477.2 1057.5 1478.5 1059.2 1479.9 1063.9 1481.2 1064.5 1482.6 1065.6 1483.9 1065.6 1485.3 1064.3 1486.7 1060.6 1488.0 1065.2 1489.4 1064.3 1490.7 1061.0 1492.1 1059.1 1493.4 1062.5 1494.8 1065.6 1496.1 1063.8 1497.5 1066.9 1498.8 1062.7 1500.2 1061.8 1501.6 1062.1 1502.9 1063.9 1504.3 1064.5 1505.6 1066.2 1507.0 1063.4 1508.3 1060.5 1509.7 1061.5 1511.0 1064.4 1512.4 1063.4 1513.7 1064.2 1515.1 1062.1 1516.5 1062.6 1517.8 1062.4 1519.2 1062.1 1520.5 1064.2 1521.9 1068.3 1523.2 1063.8 1524.6 1064.2 1525.9 1058.7 1527.3 1065.2 1528.6 1063.2 1530.0 1067.5 1531.4 1065.3 1532.7 1067.8 1534.1 1061.3 1535.4 1065.9 1536.8 1066.4 1538.1 1063.0 1539.5 1067.2 1540.8 1060.3 1542.2 1064.7 1543.6 1062.8 1544.9 1066.3 1546.3 1058.7 1547.6 1066.4 1549.0 1068.6 1550.3 1061.2 1551.7 1066.6 1553.0 1061.7 1554.4 1066.5 1555.7 1067.2 1557.1 1060.9 1558.5 1068.6 1559.8 1063.8 1561.2 1064.2 1562.5 1066.2 1563.9 1066.7 1565.2 1064.2 1566.6 1065.9 1567.9 1065.9 1569.3 1061.1 1570.6 1064.9 1572.0 1064.7 1573.4 1064.2 1574.7 1066.0 1576.1 1062.7 1577.4 1059.3 1578.8 1065.8 1580.1 1065.1 1581.5 1064.0 1582.8 1062.7 1584.2 1070.0 1585.5 1064.3 1586.9 1061.2 1588.3 1064.8 1589.6 1065.4 1591.0 1060.2 1592.3 1059.1 1593.7 1058.2 1595.0 1062.8 1596.4 1066.2 1597.7 1066.9 1599.1 1064.9 1600.4 1066.0 1601.8 1061.6 1603.2 1064.0 1604.5 1065.6 1605.9 1059.0 1607.2 1064.5 1608.6 1065.4 1609.9 1066.7 1611.3 1065.8 1612.6 1066.5 1614.0 1066.0 1615.3 1061.2 1616.7 1061.1 1618.1 1062.0 1619.4 1060.2 1620.8 1065.8 1622.1 1068.2 1623.5 1067.1 1624.8 1064.1 1626.2 1066.4 1627.5 1063.6 1628.9 1064.7 1630.2 1066.5 1631.6 1060.6 1633.0 1061.8 1634.3 1064.5 1635.7 1071.3 1637.0 1065.1 1638.4 1065.4 1639.7 1067.2 1641.1 1061.9 1642.4 1057.5 1643.8 1060.1 1645.2 1060.4 1646.5 1067.9 1647.9 1062.4 1649.2 1062.3 1650.6 1062.3 1651.9 1062.2 1653.3 1062.6 1654.6 1062.9 1656.0 1065.9 1657.3 1063.2 1658.7 1058.7 1660.1 1064.8 1661.4 1063.9 1662.8 1061.5 1664.1 1063.1 1665.5 1060.7 1666.8 1068.6 1668.2 1065.5 1669.5 1063.2 1670.9 1060.1 1672.2 1064.1 1673.6 1064.0 1675.0 1062.5 1676.3 1061.6 1677.7 1067.7 1679.0 1061.3 1680.4 1064.8 1681.7 1065.6 1683.1 1059.3 1684.4 1062.8 1685.8 1064.9 1687.1 1062.3 1688.5 1058.1 1689.9 1063.8 1691.2 1067.6 1692.6 1063.3 1693.9 1062.9 1695.3 1059.9 1696.6 1061.5 1698.0 1063.2 1699.3 1058.3 1700.7 1059.3 1702.0 1061.9 1703.4 1061.6 1704.8 1061.9 1706.1 1061.4 1707.5 1065.3 1708.8 1061.1 1710.2 1061.2 1711.5 1059.1 1712.9 1059.0 1714.2 1060.8 1715.6 1067.9 1716.9 1064.0 1718.3 1057.4 1719.7 1065.1 1721.0 1060.8 1722.4 1057.2 1723.7 1061.3 1725.1 1057.9 1726.4 1058.6 1727.8 1057.7 1729.1 1059.8 1730.5 1054.6 1731.8 1062.6 1733.2 1064.4 1734.6 1059.3 1735.9 1059.8 1737.3 1060.8 1738.6 1058.9 1740.0 1058.7 1741.3 1061.1 1742.7 1062.0 1744.0 1058.0 1745.4 1060.8 1746.8 1059.7 1748.1 1057.2 1749.5 1058.5 1750.8 1053.5 1752.2 1055.4 1753.5 1059.1 1754.9 1059.7 1756.2 1061.0 1757.6 1062.0 1758.9 1055.0 1760.3 1058.6 1761.7 1053.3 1763.0 1057.4 1764.4 1055.9 1765.7 1058.6 1767.1 1057.0 1768.4 1057.3 1769.8 1055.6 1771.1 1057.0 1772.5 1060.4 1773.8 1058.9 1775.2 1056.8 1776.6 1052.2 1777.9 1051.8 1779.3 1056.3 1780.6 1057.3 1782.0 1057.8 1783.3 1056.7 1784.7 1054.0 1786.0 1051.3 1787.4 1058.0 1788.7 1057.2 1790.1 1058.8 1791.5 1051.1 1792.8 1057.1 1794.2 1057.1 1795.5 1052.3 1796.9 1052.4 1798.2 1052.1 1799.6 1052.7 1800.9 1054.4 1802.3 1053.6 1803.6 1058.1 1805.0 1055.5 1806.4 1052.7 1807.7 1054.8 1809.1 1052.2 1810.4 1048.1 1811.8 1054.8 1813.1 1052.3 1814.5 1057.1 1815.8 1053.4 1817.2 1057.3 1818.5 1055.7 1819.9 1049.4 1821.3 1057.8 1822.6 1052.2 1824.0 1053.0 1825.3 1050.0 1826.7 1051.5 1828.0 1059.9 1829.4 1055.2 1830.7 1043.1 1832.1 1057.3 1833.4 1053.0 1834.8 1050.6 1836.2 1054.0 1837.5 1053.1 1838.9 1050.1 1840.2 1056.0 1841.6 1053.2 1842.9 1054.5 1844.3 1051.8 1845.6 1050.8 1847.0 1051.1 1848.4 1047.7 1849.7 1047.7 1851.1 1052.1 1852.4 1049.2 1853.8 1050.7 1855.1 1048.9 1856.5 1047.5 1857.8 1051.4 1859.2 1046.9 1860.5 1045.9 1861.9 1048.4 1863.3 1051.4 1864.6 1051.4 1866.0 1045.7 1867.3 1045.9 1868.7 1047.3 1870.0 1046.1 1871.4 1049.0 1872.7 1051.5 1874.1 1048.4 1875.4 1044.7 1876.8 1044.7 1878.2 1045.4 1879.5 1049.0 1880.9 1052.5 1882.2 1047.9 1883.6 1054.3 1884.9 1056.1 1886.3 1062.0 1887.6 1052.7 1889.0 1056.1 1890.3 1057.9 1891.7 1057.2 1893.1 1058.5 1894.4 1057.3 1895.8 1058.4 1897.1 1056.0 1898.5 1056.3 1899.8 1051.8 1901.2 1062.1 1902.5 1052.9 1903.9 1057.1 1905.2 1057.2 1906.6 1054.5 1908.0 1052.5 1909.3 1057.6 1910.7 1052.4 1912.0 1059.9 1913.4 1064.4 1914.7 1060.9 1916.1 1050.0 1917.4 1058.3 1918.8 1057.4 1920.1 1056.7 1921.5 1059.6 1922.9 1055.9 1924.2 1058.8 1925.6 1055.4 1926.9 1054.5 1928.3 1058.9 1929.6 1060.3 1931.0 1055.7 1932.3 1061.7 1933.7 1056.9 1935.0 1054.9 1936.4 1055.3 1937.8 1055.6 1939.1 1059.3 1940.5 1059.4 1941.8 1057.6 1943.2 1061.1 1944.5 1054.9 1945.9 1058.6 1947.2 1058.2 1948.6 1051.4 1950.0 1058.3 1951.3 1056.1 1952.7 1061.6 1954.0 1056.1 1955.4 1061.1 1956.7 1058.8 1958.1 1053.3 1959.4 1060.5 1960.8 1059.3 1962.1 1058.4 1963.5 1057.0 1964.9 1062.6 1966.2 1056.7 1967.6 1060.7 1968.9 1059.2 1970.3 1057.0 1971.6 1055.4 1973.0 1058.4 1974.3 1057.3 1975.7 1054.2 1977.0 1058.6 1978.4 1059.0 1979.8 1057.7 1981.1 1052.6 1982.5 1059.0 1983.8 1056.6 1985.2 1059.7 1986.5 1056.5 1987.9 1055.6 1989.2 1056.9 1990.6 1056.3 1991.9 1063.2 1993.3 1054.5 1994.7 1053.1 1996.0 1056.7 1997.4 1057.0 1998.7 1052.1 2000.1 1052.4 2001.4 1054.6 2002.8 1056.3 2004.1 1056.1 2005.5 1059.2 2006.8 1056.8 2008.2 1054.8 2009.6 1056.6 2010.9 1057.6 2012.3 1058.4 2013.6 1048.9 2015.0 1056.8 2016.3 1057.5 2017.7 1060.6 2019.0 1055.6 2020.4 1056.9 2021.7 1052.1 2023.1 1058.7 2024.5 1059.2 2025.8 1054.0 2027.2 1056.6 2028.5 1055.0 2029.9 1059.2 2031.2 1055.5 2032.6 1056.7 2033.9 1056.8 2035.3 1055.1 2036.6 1056.6 2038.0 1060.5 2039.4 1055.9 2040.7 1053.8 2042.1 1059.1 2043.4 1061.1 2044.8 1058.4 2046.1 1055.8 2047.5 1055.6 2048.8 1057.4 2050.2 1058.4 2051.6 1063.5 2052.9 1062.0 2054.3 1052.5 2055.6 1057.5 2057.0 1059.3 2058.3 1057.1 2059.7 1054.9 2061.0 1053.2 2062.4 1056.8 2063.7 1056.9 2065.1 1055.8 2066.5 1052.3 2067.8 1049.4 2069.2 1059.3 2070.5 1051.8 2071.9 1054.0 2073.2 1050.6 2074.6 1057.0 2075.9 1053.0 2077.3 1054.4 2078.6 1061.2 2080.0 1057.0 2081.4 1055.0 2082.7 1048.9 2084.1 1056.6 2085.4 1056.5 2086.8 1057.0 2088.1 1054.6 2089.5 1050.0 2090.8 1052.0 2092.2 1056.2 2093.5 1055.8 2094.9 1055.1 2096.3 1059.7 2097.6 1056.3 2099.0 1053.8 2100.3 1053.9 2101.7 1048.2 2103.0 1051.5 2104.4 1055.6 2105.7 1048.0 2107.1 1053.7 2108.4 1055.4 2109.8 1051.8 2111.2 1054.3 2112.5 1049.8 2113.9 1057.4 2115.2 1051.4 2116.6 1046.0 2117.9 1053.5 2119.3 1050.9 2120.6 1056.8 2122.0 1054.1 2123.3 1051.0 2124.7 1056.4 2126.1 1051.0 2127.4 1048.1 2128.8 1054.9 2130.1 1055.7 2131.5 1050.9 2132.8 1054.4 2134.2 1056.6 2135.5 1049.6 2136.9 1042.8 2138.2 1052.9 2139.6 1050.5 2141.0 1053.8 2142.3 1051.7 2143.7 1049.9 2145.0 1048.2 2146.4 1047.7 2147.7 1049.3 2149.1 1048.2 2150.4 1053.0 2151.8 1052.7 2153.2 1048.9 2154.5 1054.1 2155.9 1049.6 2157.2 1049.1 2158.6 1053.0 2159.9 1051.2 2161.3 1048.7 2162.6 1052.7 2164.0 1055.0 2165.3 1046.5 2166.7 1049.4 2168.1 1044.2 2169.4 1049.8 2170.8 1057.0 2172.1 1050.7 2173.5 1049.5 2174.8 1050.3 2176.2 1047.0 2177.5 1050.2 2178.9 1048.7 2180.2 1047.4 2181.6 1052.1 2183.0 1048.9 2184.3 1050.2 2185.7 1047.6 2187.0 1049.8 2188.4 1051.0 2189.7 1049.2 2191.1 1053.6 2192.4 1049.1 2193.8 1050.2 2195.1 1048.8 2196.5 1051.8" stroke="#000000"/>
<path d="M164.5 1428.8 165.9 1432.3 167.2 1433.4 168.6 1433.4 169.9 1435.6 171.3 1429.5 172.6 1432.1 174.0 1429.6 175.3 1426.7 176.7 1428.7 178.0 1431.1 179.4 1428.2 180.8 1430.2 182.1 1433.9 183.5 1432.4 184.8 1432.4 186.2 1431.8 187.5 1430.4 188.9 1425.7 190.2 1433.7 191.6 1426.7 192.9 1431.6 194.3 1430.7 195.7 1431.4 197.0 1431.7 198.4 1430.1 199.7 1433.6 201.1 1427.5 202.4 1433.3 203.8 1426.4 205.1 1434.5 206.5 1429.7 207.8 1432.2 209.2 1435.4 210.6 1425.2 211.9 1430.4 213.3 1432.9 214.6 1433.8 216.0 1435.1 217.3 1433.0 218.7 1432.8 220.0 1431.6 221.4 1432.1 222.8 1431.6 224.1 1434.2 225.5 1431.9 226.8 1433.3 228.2 1436.0 229.5 1434.7 230.9 1430.5 232.2 1431.2 233.6 1433.6 234.9 1429.7 236.3 1426.4 237.7 1428.7 239.0 1433.1 240.4 1431.0 241.7 1430.6 243.1 1433.7 244.4 1428.7 245.8 1437.9 247.1 1431.7 248.5 1430.7 249.8 1437.3 251.2 1428.6 252.6 1430.3 253.9 1431.4 255.3 1429.0 256.6 1430.7 258.0 1429.7 259.3 1432.2 260.7 1431.6 262.0 1434.5 263.4 1437.0 264.7 1436.1 266.1 1425.9 267.5 1435.6 268.8 1433.9 270.2 1432.9 271.5 1429.0 272.9 1430.5 274.2 1431.2 275.6 1427.9 276.9 1435.2 278.3 1434.3 279.6 1431.7 281.0 1429.1 282.4 1435.6 283.7 1433.6 285.1 1434.8 286.4 1430.6 287.8 1438.5 289.1 1431.4 290.5 1437.3 291.8 1426.2 293.2 1432.7 294.5 1432.0 295.9 1424.7 297.3 1430.0 298.6 1428.4 300.0 1427.9 301.3 1429.7 302.7 1428.5 304.0 1432.7 305.4 1433.1 306.7 1432.5 308.1 1429.4 309.4 1430.4 310.8 1436.4 312.2 1430.8 313.5 1431.7 314.9 1430.1 316.2 1433.2 317.6 1434.2 318.9 1433.9 320.3 1432.9 321.6 1433.6 323.0 1431.0 324.4 1433.4 325.7 1428.8 327.1 1438.2 328.4 1434.0 329.8 1428.7 331.1 1433.7 332.5 1432.4 333.8 1428.1 335.2 1426.7 336.5 1426.9 337.9 1428.5 339.3 1432.3 340.6 1432.1 342.0 1434.9 343.3 1437.7 344.7 1430.0 346.0 1425.6 347.4 1427.2 348.7 1425.6 350.1 1429.4 351.4 1429.8 352.8 1434.8 354.2 1427.0 355.5 1430.5 356.9 1430.5 358.2 1430.8 359.6 1429.6 360.9 1437.1 362.3 1430.6 363.6 1431.2 365.0 1433.1 366.3 1431.7 367.7 1436.0 369.1 1427.6 370.4 1430.4 371.8 1429.6 373.1 1430.7 374.5 1433.4 375.8 1429.2 377.2 1425.4 378.5 1431.1 379.9 1427.9 381.2 1432.6 382.6 1431.5 384.0 1436.7 385.3 1432.3 386.7 1428.5 388.0 1431.8 389.4 1433.7 390.7 1431.0 392.1 1430.6 393.4 1429.9 394.8 1429.5 396.1 1428.1 397.5 1434.0 398.9 1431.8 400.2 1426.6 401.6 1433.6 402.9 1430.7 404.3 1431.2 405.6 1431.0 407.0 1433.9 408.3 1424.3 409.7 1430.5 411.0 1432.1 412.4 1430.2 413.8 1425.9 415.1 1427.0 416.5 1431.1 417.8 1434.5 419.2 1425.1 420.5 1428.9 421.9 1431.4 423.2 1431.2 424.6 1432.1 426.0 1433.8 427.3 1432.7 428.7 1426.5 430.0 1429.7 431.4 1427.5 432.7 1430.6 434.1 1434.8 435.4 1433.5 436.8 1437.1 438.1 1434.5 439.5 1433.7 440.9 1433.5 442.2 1428.7 443.6 1430.3 444.9 1432.3 446.3 1432.8 447.6 1432.4 449.0 1428.0 450.3 1427.7 451.7 1427.5 453.0 1435.8 454.4 1430.4 455.8 1433.0 457.1 1430.5 458.5 1430.2 459.8 1430.0 461.2 1429.6 462.5 1430.9 463.9 1432.9 465.2 1427.1 466.6 1430.8 467.9 1429.8 469.3 1429.4 470.7 1432.5 472.0 1435.1 473.4 1426.9 474.7 1431.1 476.1 1433.6 477.4 1433.0 478.8 1426.1 480.1 1432.0 481.5 1429.5 482.8 1429.4 484.2 1432.7 485.6 1427.8 486.9 1431.3 488.3 1433.0 489.6 1428.8 491.0 1427.8 492.3 1436.6 493.7 1427.8 495.0 1434.2 496.4 1428.1 497.7 1429.7 499.1 1426.6 500.5 1427.2 501.8 1425.8 503.2 1420.9 504.5 1422.1 505.9 1423.9 507.2 1418.0 508.6 1413.0 509.9 1419.3 511.3 1415.5 512.6 1418.3 514.0 1415.5 515.4 1413.8 516.7 1414.5 518.1 1415.4 519.4 1414.2 520.8 1408.4 522.1 1406.4 523.5 1403.9 524.8 1406.9 526.2 1399.8 527.6 1388.5 528.9 1379.4 530.3 1374.2 531.6 1362.8 533.0 1368.5 534.3 1381.5 535.7 1392.9 537.0 1401.9 538.4 1405.0 539.7 1414.9 541.1 1413.7 542.5 1421.4 543.8 1421.0 545.2 1421.4 546.5 1426.5 547.9 1422.8 549.2 1422.9 550.6 1425.5 551.9 1428.5 553.3 1421.2 554.6 1425.5 556.0 1422.6 557.4 1419.1 558.7 1421.8 560.1 1424.2 561.4 1422.5 562.8 1421.9 564.1 1423.0 565.5 1422.2 566.8 1422.1 568.2 1419.9 569.5 1424.2 570.9 1416.1 572.3 1422.9 573.6 1420.1 575.0 1424.2 576.3 1418.7 577.7 1415.2 579.0 1422.9 580.4 1424.3 581.7 1416.1 583.1 1422.2 584.4 1421.6 585.8 1417.9 587.2 1422.2 588.5 1417.9 589.9 1422.9 591.2 1423.3 592.6 1418.5 593.9 1418.6 595.3 1419.5 596.6 1413.8 598.0 1417.1 599.3 1418.7 600.7 1424.7 602.1 1421.6 603.4 1418.8 604.8 1415.4 606.1 1418.6 607.5 1417.6 608.8 1413.3 610.2 1416.0 611.5 1412.7 612.9 1414.7 614.2 1406.7 615.6 1419.5 617.0 1413.7 618.3 1411.8 619.7 1412.6 621.0 1409.4 622.4 1413.1 623.7 1417.0 625.1 1413.6 626.4 1411.3 627.8 1411.5 629.2 1411.7 630.5 1409.8 631.9 1408.7 633.2 1409.9 634.6 1410.1 635.9 1407.2 637.3 1409.0 638.6 1404.1 640.0 1401.7 641.3 1400.7 642.7 1406.1 644.1 1402.1 645.4 1403.0 646.8 1399.9 648.1 1399.8 649.5 1400.0 650.8 1394.1 652.2 1394.6 653.5 1398.3 654.9 1397.0 656.2 1388.8 657.6 1385.3 659.0 1378.9 660.3 1373.0 661.7 1373.0 663.0 1367.5 664.4 1357.1 665.7 1347.7 667.1 1333.4 668.4 1326.9 669.8 1310.4 671.1 1291.2 672.5 1277.1 673.9 1251.8 675.2 1230.7 676.6 1210.1 677.9 1179.1 679.3 1154.5 680.6 1143.9 682.0 1130.9 683.3 1122.4 684.7 1129.0 686.0 1142.0 687.4 1162.9 688.8 1200.1 690.1 1249.3 691.5 1278.6 692.8 1286.2 694.2 1274.9 695.5 1262.0 696.9 1244.3 698.2 1229.9 699.6 1207.3 700.9 1182.6 702.3 1161.7 703.7 1138.5 705.0 1119.6 706.4 1105.3 707.7 1089.3 709.1 1076.8 710.4 1070.2 711.8 1069.7 713.1 1083.2 714.5 1115.8 715.8 1131.6 717.2 1173.1 718.6 1222.8 719.9 1265.3 721.3 1310.0 722.6 1341.8 724.0 1353.3 725.3 1371.5 726.7 1370.9 728.0 1376.8 729.4 1386.0 730.8 1382.7 732.1 1393.1 733.5 1391.5 734.8 1397.6 736.2 1393.2 737.5 1395.4 738.9 1400.9 740.2 1399.2 741.6 1399.4 742.9 1405.3 744.3 1403.8 745.7 1402.8 747.0 1406.4 748.4 1409.0 749.7 1408.1 751.1 1416.3 752.4 1412.6 753.8 1411.8 755.1 1413.5 756.5 1416.5 757.8 1413.3 759.2 1414.6 760.6 1416.1 761.9 1415.8 763.3 1416.1 764.6 1409.4 766.0 1415.7 767.3 1417.4 768.7 1420.6 770.0 1415.4 771.4 1418.1 772.7 1417.4 774.1 1418.5 775.5 1423.5 776.8 1422.7 778.2 1413.9 779.5 1415.8 780.9 1416.4 782.2 1420.6 783.6 1415.8 784.9 1421.4 786.3 1428.4 787.6 1415.9 789.0 1421.8 790.4 1419.6 791.7 1420.7 793.1 1418.7 794.4 1414.6 795.8 1418.1 797.1 1417.1 798.5 1415.9 799.8 1419.4 801.2 1429.7 802.5 1417.3 803.9 1421.8 805.3 1420.5 806.6 1421.8 808.0 1421.7 809.3 1419.1 810.7 1427.5 812.0 1422.5 813.4 1423.3 814.7 1416.0 816.1 1412.3 817.4 1413.6 818.8 1413.2 820.2 1421.3 821.5 1426.4 822.9 1421.8 824.2 1423.5 825.6 1420.2 826.9 1424.3 828.3 1425.2 829.6 1424.6 831.0 1426.3 832.4 1424.2 833.7 1424.8 835.1 1428.7 836.4 1428.4 837.8 1427.0 839.1 1434.0 840.5 1426.4 841.8 1426.5 843.2 1428.8 844.5 1433.4 845.9 1426.2 847.3 1426.5 848.6 1426.7 850.0 1425.9 851.3 1424.3 852.7 1429.4 854.0 1430.4 855.4 1429.4 856.7 1428.9 858.1 1426.8 859.4 1429.9 860.8 1428.9 862.2 1426.5 863.5 1429.0 864.9 1425.7 866.2 1427.8 867.6 1426.6 868.9 1431.0 870.3 1427.2 871.6 1430.4 873.0 1425.6 874.3 1430.1 875.7 1431.5 877.1 1429.7 878.4 1427.8 879.8 1428.4 881.1 1436.7 882.5 1430.5 883.8 1429.5 885.2 1427.0 886.5 1427.1 887.9 1430.0 889.2 1429.1 890.6 1432.1 892.0 1433.5 893.3 1432.0 894.7 1430.3 896.0 1431.2 897.4 1433.8 898.7 1435.2 900.1 1434.7 901.4 1434.6 902.8 1431.2 904.1 1433.1 905.5 1433.2 906.9 1436.4 908.2 1435.0 909.6 1431.4 910.9 1424.8 912.3 1439.2 913.6 1435.9 915.0 1432.3 916.3 1429.3 917.7 1432.3 919.0 1430.7 920.4 1437.6 921.8 1436.0 923.1 1429.0 924.5 1435.5 925.8 1432.5 927.2 1434.9 928.5 1432.0 929.9 1428.5 931.2 1429.6 932.6 1433.9 934.0 1436.3 935.3 1437.9 936.7 1437.8 938.0 1433.8 939.4 1434.8 940.7 1435.7 942.1 1433.8 943.4 1437.4 944.8 1432.8 946.1 1435.1 947.5 1434.5 948.9 1435.1 950.2 1438.4 951.6 1435.2 952.9 1436.4 954.3 1435.2 955.6 1435.0 957.0 1438.4 958.3 1433.2 959.7 1434.3 961.0 1436.8 962.4 1436.0 963.8 1434.8 965.1 1434.0 966.5 1431.0 967.8 1435.1 969.2 1433.1 970.5 1437.5 971.9 1435.8 973.2 1428.4 974.6 1435.3 975.9 1436.7 977.3 1434.3 978.7 1435.3 980.0 1435.6 981.4 1436.0 982.7 1431.9 984.1 1435.3 985.4 1438.3 986.8 1431.0 988.1 1436.1 989.5 1428.5 990.8 1435.9 992.2 1438.2 993.6 1437.3 994.9 1431.0 996.3 1440.4 997.6 1435.6 999.0 1438.0 1000.3 1432.2 1001.7 1432.5 1003.0 1433.2 1004.4 1435.2 1005.7 1436.2 1007.1 1431.2 1008.5 1435.6 1009.8 1437.1 1011.2 1437.7 1012.5 1433.7 1013.9 1433.4 1015.2 1438.8 1016.6 1435.7 1017.9 1433.5 1019.3 1434.8 1020.6 1433.7 1022.0 1435.1 1023.4 1433.7 1024.7 1435.5 1026.1 1434.4 1027.4 1433.3 1028.8 1432.6 1030.1 1434.4 1031.5 1436.1 1032.8 1436.0 1034.2 1433.6 1035.6 1435.5 1036.9 1440.3 1038.3 1431.1 1039.6 1435.5 1041.0 1431.5 1042.3 1436.5 1043.7 1435.8 1045.0 1435.8 1046.4 1433.4 1047.7 1432.8 1049.1 1429.1 1050.5 1432.5 1051.8 1432.1 1053.2 1430.2 1054.5 1430.8 1055.9 1436.5 1057.2 1431.2 1058.6 1429.6 1059.9 1425.7 1061.3 1430.4 1062.6 1426.9 1064.0 1432.4 1065.4 1425.0 1066.7 1423.0 1068.1 1422.1 1069.4 1417.5 1070.8 1418.3 1072.1 1418.6 1073.5 1416.9 1074.8 1413.6 1076.2 1409.8 1077.5 1415.7 1078.9 1418.8 1080.3 1416.4 1081.6 1411.9 1083.0 1419.7 1084.3 1419.9 1085.7 1422.6 1087.0 1425.6 1088.4 1428.1 1089.7 1424.0 1091.1 1428.1 1092.4 1424.7 1093.8 1427.8 1095.2 1432.0 1096.5 1427.1 1097.9 1426.1 1099.2 1430.1 1100.6 1425.3 1101.9 1422.9 1103.3 1425.8 1104.6 1421.3 1106.0 1421.3 1107.3 1416.8 1108.7 1410.1 1110.1 1414.1 1111.4 1402.6 1112.8 1403.9 1114.1 1396.5 1115.5 1396.1 1116.8 1393.3 1118.2 1393.7 1119.5 1385.3 1120.9 1383.2 1122.2 1385.5 1123.6 1385.6 1125.0 1385.3 1126.3 1395.6 1127.7 1397.1 1129.0 1400.8 1130.4 1404.3 1131.7 1411.9 1133.1 1409.7 1134.4 1420.0 1135.8 1421.4 1137.2 1428.5 1138.5 1426.3 1139.9 1436.6 1141.2 1428.7 1142.6 1429.5 1143.9 1427.8 1145.3 1433.5 1146.6 1431.0 1148.0 1426.9 1149.3 1431.6 1150.7 1431.4 1152.1 1428.1 1153.4 1432.8 1154.8 1430.4 1156.1 1431.6 1157.5 1433.1 1158.8 1429.1 1160.2 1432.3 1161.5 1426.1 1162.9 1421.9 1164.2 1422.6 1165.6 1423.4 1167.0 1418.9 1168.3 1412.5 1169.7 1416.0 1171.0 1414.0 1172.4 1404.1 1173.7 1406.5 1175.1 1397.8 1176.4 1393.8 1177.8 1392.4 1179.1 1385.0 1180.5 1371.7 1181.9 1373.9 1183.2 1364.1 1184.6 1363.8 1185.9 1360.3 1187.3 1360.2 1188.6 1365.4 1190.0 1367.4 1191.3 1372.9 1192.7 1379.1 1194.0 1386.6 1195.4 1393.9 1196.8 1405.1 1198.1 1402.1 1199.5 1406.8 1200.8 1407.3 1202.2 1405.6 1203.5 1407.7 1204.9 1403.0 1206.2 1399.2 1207.6 1402.7 1208.9 1402.9 1210.3 1396.5 1211.7 1395.5 1213.0 1391.1 1214.4 1385.8 1215.7 1387.7 1217.1 1386.4 1218.4 1386.4 1219.8 1396.1 1221.1 1399.2 1222.5 1407.5 1223.8 1411.1 1225.2 1412.5 1226.6 1417.1 1227.9 1423.6 1229.3 1426.7 1230.6 1427.6 1232.0 1432.0 1233.3 1429.4 1234.7 1433.6 1236.0 1434.9 1237.4 1427.2 1238.8 1430.7 1240.1 1435.5 1241.5 1436.2 1242.8 1438.9 1244.2 1436.6 1245.5 1435.1 1246.9 1436.9 1248.2 1433.5 1249.6 1438.4 1250.9 1440.1 1252.3 1437.7 1253.7 1433.2 1255.0 1441.3 1256.4 1431.5 1257.7 1431.2 1259.1 1435.5 1260.4 1434.2 1261.8 1430.5 1263.1 1429.1 1264.5 1431.4 1265.8 1429.8 1267.2 1429.7 1268.6 1426.5 1269.9 1424.9 1271.3 1431.5 1272.6 1430.0 1274.0 1425.9 1275.3 1431.1 1276.7 1425.1 1278.0 1423.1 1279.4 1433.4 1280.7 1430.5 1282.1 1426.6 1283.5 1427.3 1284.8 1426.8 1286.2 1427.0 1287.5 1425.4 1288.9 1429.3 1290.2 1434.4 1291.6 1442.2 1292.9 1432.2 1294.3 1429.6 1295.6 1433.0 1297.0 1432.4 1298.4 1436.1 1299.7 1438.4 1301.1 1433.2 1302.4 1430.8 1303.8 1437.2 1305.1 1428.8 1306.5 1427.3 1307.8 1434.2 1309.2 1429.7 1310.5 1433.0 1311.9 1426.1 1313.3 1430.2 1314.6 1426.8 1316.0 1428.8 1317.3 1433.4 1318.7 1431.3 1320.0 1432.0 1321.4 1432.4 1322.7 1429.5 1324.1 1426.0 1325.4 1425.3 1326.8 1430.0 1328.2 1423.2 1329.5 1431.4 1330.9 1431.6 1332.2 1431.0 1333.6 1429.6 1334.9 1434.3 1336.3 1426.0 1337.6 1429.5 1339.0 1429.0 1340.4 1425.5 1341.7 1425.7 1343.1 1427.1 1344.4 1425.8 1345.8 1426.6 1347.1 1424.3 1348.5 1431.9 1349.8 1434.0 1351.2 1432.8 1352.5 1433.1 1353.9 1436.4 1355.3 1433.1 1356.6 1438.0 1358.0 1433.5 1359.3 1432.7 1360.7 1435.1 1362.0 1429.0 1363.4 1434.8 1364.7 1438.1 1366.1 1439.8 1367.4 1434.3 1368.8 1433.5 1370.2 1440.3 1371.5 1438.4 1372.9 1441.6 1374.2 1439.5 1375.6 1438.7 1376.9 1437.2 1378.3 1433.5 1379.6 1433.2 1381.0 1434.9 1382.3 1436.3 1383.7 1434.1 1385.1 1431.4 1386.4 1441.1 1387.8 1431.2 1389.1 1435.8 1390.5 1425.6 1391.8 1435.1 1393.2 1442.2 1394.5 1438.2 1395.9 1434.3 1397.2 1439.9 1398.6 1433.9 1400.0 1440.3 1401.3 1436.2 1402.7 1434.5 1404.0 1435.8 1405.4 1432.8 1406.7 1431.8 1408.1 1434.4 1409.4 1434.2 1410.8 1435.8 1412.1 1436.4 1413.5 1436.2 1414.9 1436.0 1416.2 1434.3 1417.6 1432.9 1418.9 1436.5 1420.3 1433.0 1421.6 1435.2 1423.0 1432.4 1424.3 1434.3 1425.7 1432.9 1427.0 1434.6 1428.4 1438.1 1429.8 1433.5 1431.1 1433.4 1432.5 1432.0 1433.8 1433.1 1435.2 1434.0 1436.5 1431.1 1437.9 1434.5 1439.2 1432.2 1440.6 1432.8 1442.0 1436.6 1443.3 1432.2 1444.7 1433.3 1446.0 1433.9 1447.4 1435.8 1448.7 1430.3 1450.1 1429.7 1451.4 1435.7 1452.8 1436.2 1454.1 1436.8 1455.5 1436.7 1456.9 1432.3 1458.2 1434.3 1459.6 1436.7 1460.9 1436.4 1462.3 1426.3 1463.6 1434.6 1465.0 1434.6 1466.3 1435.8 1467.7 1436.3 1469.0 1435.8 1470.4 1433.5 1471.8 1428.8 1473.1 1433.9 1474.5 1431.6 1475.8 1435.0 1477.2 1431.4 1478.5 1432.2 1479.9 1431.8 1481.2 1434.5 1482.6 1436.7 1483.9 1433.2 1485.3 1437.5 1486.7 1435.8 1488.0 1428.1 1489.4 1428.5 1490.7 1431.7 1492.1 1433.1 1493.4 1428.1 1494.8 1434.5 1496.1 1428.9 1497.5 1435.6 1498.8 1432.2 1500.2 1433.0 1501.6 1428.1 1502.9 1433.5 1504.3 1428.2 1505.6 1431.2 1507.0 1432.1 1508.3 1434.7 1509.7 1431.5 1511.0 1429.6 1512.4 1434.5 1513.7 1433.2 1515.1 1432.4 1516.5 1434.6 1517.8 1432.5 1519.2 1434.5 1520.5 1428.1 1521.9 1432.3 1523.2 1435.6 1524.6 1427.8 1525.9 1429.4 1527.3 1430.1 1528.6 1432.0 1530.0 1432.4 1531.4 1425.7 1532.7 1430.5 1534.1 1426.9 1535.4 1425.4 1536.8 1423.8 1538.1 1420.7 1539.5 1421.9 1540.8 1421.3 1542.2 1418.3 1543.6 1413.7 1544.9 1409.5 1546.3 1410.2 1547.6 1406.0 1549.0 1401.6 1550.3 1396.4 1551.7 1395.3 1553.0 1390.5 1554.4 1390.9 1555.7 1392.6 1557.1 1382.6 1558.5 1386.9 1559.8 1382.0 1561.2 1384.5 1562.5 1386.4 1563.9 1374.6 1565.2 1373.4 1566.6 1371.2 1567.9 1380.1 1569.3 1379.3 1570.6 1374.9 1572.0 1375.1 1573.4 1375.5 1574.7 1376.5 1576.1 1371.2 1577.4 1378.3 1578.8 1377.3 1580.1 1383.9 1581.5 1380.9 1582.8 1379.6 1584.2 1383.8 1585.5 1373.7 1586.9 1367.9 1588.3 1362.8 1589.6 1351.8 1591.0 1343.3 1592.3 1341.8 1593.7 1335.2 1595.0 1336.0 1596.4 1343.6 1597.7 1338.6 1599.1 1351.7 1600.4 1352.3 1601.8 1354.6 1603.2 1355.8 1604.5 1361.4 1605.9 1366.4 1607.2 1367.6 1608.6 1373.3 1609.9 1376.7 1611.3 1377.6 1612.6 1385.8 1614.0 1393.6 1615.3 1396.1 1616.7 1399.0 1618.1 1406.4 1619.4 1409.2 1620.8 1415.4 1622.1 1408.8 1623.5 1419.9 1624.8 1417.9 1626.2 1415.5 1627.5 1412.2 1628.9 1404.6 1630.2 1404.3 1631.6 1404.9 1633.0 1394.8 1634.3 1397.6 1635.7 1388.6 1637.0 1385.6 1638.4 1392.4 1639.7 1386.9 1641.1 1390.4 1642.4 1399.8 1643.8 1405.0 1645.2 1409.8 1646.5 1407.1 1647.9 1414.5 1649.2 1417.3 1650.6 1429.8 1651.9 1428.4 1653.3 1426.4 1654.6 1423.3 1656.0 1419.0 1657.3 1423.1 1658.7 1417.7 1660.1 1422.1 1661.4 1410.9 1662.8 1403.7 1664.1 1405.5 1665.5 1407.4 1666.8 1410.0 1668.2 1412.9 1669.5 1410.5 1670.9 1410.7 1672.2 1409.3 1673.6 1412.0 1675.0 1421.1 1676.3 1421.4 1677.7 1419.7 1679.0 1419.9 1680.4 1423.8 1681.7 1420.7 1683.1 1423.7 1684.4 1417.5 1685.8 1418.0 1687.1 1419.8 1688.5 1420.4 1689.9 1422.1 1691.2 1421.3 1692.6 1426.1 1693.9 1415.6 1695.3 1422.8 1696.6 1421.7 1698.0 1422.3 1699.3 1421.6 1700.7 1422.4 1702.0 1420.1 1703.4 1422.4 1704.8 1430.1 1706.1 1429.5 1707.5 1429.5 1708.8 1428.1 1710.2 1426.2 1711.5 1434.5 1712.9 1427.7 1714.2 1430.7 1715.6 1430.5 1716.9 1429.0 1718.3 1428.4 1719.7 1433.2 1721.0 1430.0 1722.4 1434.8 1723.7 1439.8 1725.1 1432.6 1726.4 1433.8 1727.8 1436.4 1729.1 1437.2 1730.5 1439.2 1731.8 1437.4 1733.2 1436.0 1734.6 1431.8 1735.9 1437.0 1737.3 1434.8 1738.6 1434.6 1740.0 1429.6 1741.3 1435.7 1742.7 1438.8 1744.0 1436.1 1745.4 1437.6 1746.8 1435.3 1748.1 1431.1 1749.5 1439.8 1750.8 1433.7 1752.2 1440.3 1753.5 1431.4 1754.9 1434.2 1756.2 1439.1 1757.6 1433.8 1758.9 1434.7 1760.3 1439.0 1761.7 1438.9 1763.0 1443.0 1764.4 1439.2 1765.7 1437.2 1767.1 1441.0 1768.4 1433.6 1769.8 1439.3 1771.1 1434.8 1772.5 1439.5 1773.8 1437.4 1775.2 1433.4 1776.6 1442.5 1777.9 1440.0 1779.3 1436.6 1780.6 1434.8 1782.0 1436.2 1783.3 1435.9 1784.7 1438.0 1786.0 1436.8 1787.4 1438.1 1788.7 1435.7 1790.1 1443.0 1791.5 1442.0 1792.8 1442.6 1794.2 1436.5 1795.5 1438.1 1796.9 1438.4 1798.2 1435.6 1799.6 1435.9 1800.9 1435.1 1802.3 1436.7 1803.6 1436.2 1805.0 1433.5 1806.4 1440.2 1807.7 1437.6 1809.1 1440.4 1810.4 1439.4 1811.8 1442.7 1813.1 1441.0 1814.5 1435.9 1815.8 1439.1 1817.2 1438.7 1818.5 1437.7 1819.9 1435.4 1821.3 1437.6 1822.6 1436.9 1824.0 1437.9 1825.3 1439.2 1826.7 1429.9 1828.0 1434.8 1829.4 1434.4 1830.7 1439.4 1832.1 1439.2 1833.4 1437.5 1834.8 1439.6 1836.2 1437.5 1837.5 1439.3 1838.9 1434.6 1840.2 1434.1 1841.6 1441.5 1842.9 1436.9 1844.3 1436.3 1845.6 1437.1 1847.0 1437.4 1848.4 1433.6 1849.7 1434.2 1851.1 1439.1 1852.4 1435.5 1853.8 1434.6 1855.1 1428.0 1856.5 1430.6 1857.8 1435.8 1859.2 1434.8 1860.5 1431.7 1861.9 1435.4 1863.3 1434.1 1864.6 1427.2 1866.0 1433.6 1867.3 1430.1 1868.7 1428.1 1870.0 1431.5 1871.4 1432.8 1872.7 1428.6 1874.1 1427.7 1875.4 1427.6 1876.8 1425.0 1878.2 1423.8 1879.5 1422.1 1880.9 1419.6 1882.2 1424.9 1883.6 1423.3 1884.9 1422.0 1886.3 1420.2 1887.6 1421.9 1889.0 1421.1 1890.3 1413.3 1891.7 1420.8 1893.1 1415.1 1894.4 1413.0 1895.8 1415.4 1897.1 1413.2 1898.5 1408.8 1899.8 1412.9 1901.2 1408.5 1902.5 1403.8 1903.9 1407.1 1905.2 1405.6 1906.6 1406.9 1908.0 1407.4 1909.3 1412.6 1910.7 1415.2 1912.0 1413.5 1913.4 1423.3 1914.7 1421.9 1916.1 1421.9 1917.4 1428.2 1918.8 1426.4 1920.1 1430.7 1921.5 1433.2 1922.9 1439.3 1924.2 1443.6 1925.6 1438.4 1926.9 1437.6 1928.3 1439.4 1929.6 1442.6 1931.0 1439.2 1932.3 1437.0 1933.7 1437.3 1935.0 1444.2 1936.4 1433.3 1937.8 1437.5 1939.1 1435.4 1940.5 1437.5 1941.8 1440.5 1943.2 1441.4 1944.5 1432.5 1945.9 1433.6 1947.2 1432.5 1948.6 1430.4 1950.0 1430.1 1951.3 1427.5 1952.7 1425.5 1954.0 1430.1 1955.4 1425.4 1956.7 1425.1 1958.1 1421.2 1959.4 1414.5 1960.8 1413.9 1962.1 1416.1 1963.5 1413.0 1964.9 1409.9 1966.2 1411.6 1967.6 1417.3 1968.9 1410.0 1970.3 1418.3 1971.6 1419.8 1973.0 1421.5 1974.3 1419.9 1975.7 1425.3 1977.0 1427.6 1978.4 1430.8 1979.8 1428.0 1981.1 1434.1 1982.5 1441.4 1983.8 1435.8 1985.2 1437.3 1986.5 1439.4 1987.9 1431.5 1989.2 1439.5 1990.6 1435.1 1991.9 1430.6 1993.3 1435.7 1994.7 1436.1 1996.0 1439.3 1997.4 1434.9 1998.7 1433.4 2000.1 1430.4 2001.4 1436.2 2002.8 1437.2 2004.1 1439.9 2005.5 1434.7 2006.8 1435.8 2008.2 1435.2 2009.6 1434.9 2010.9 1436.9 2012.3 1434.7 2013.6 1434.9 2015.0 1442.6 2016.3 1438.4 2017.7 1440.6 2019.0 1436.9 2020.4 1439.4 2021.7 1433.8 2023.1 1438.0 2024.5 1435.7 2025.8 1437.3 2027.2 1439.1 2028.5 1438.9 2029.9 1430.7 2031.2 1437.2 2032.6 1440.2 2033.9 1436.6 2035.3 1434.1 2036.6 1437.1 2038.0 1440.3 2039.4 1439.7 2040.7 1440.0 2042.1 1438.4 2043.4 1437.0 2044.8 1431.5 2046.1 1437.4 2047.5 1440.2 2048.8 1439.6 2050.2 1442.9 2051.6 1439.1 2052.9 1435.0 2054.3 1432.7 2055.6 1438.9 2057.0 1440.3 2058.3 1436.6 2059.7 1441.7 2061.0 1438.6 2062.4 1435.6 2063.7 1440.1 2065.1 1441.1 2066.5 1436.8 2067.8 1437.9 2069.2 1430.3 2070.5 1437.6 2071.9 1439.2 2073.2 1437.3 2074.6 1438.3 2075.9 1437.4 2077.3 1433.9 2078.6 1440.4 2080.0 1438.9 2081.4 1439.1 2082.7 1433.2 2084.1 1439.0 2085.4 1441.2 2086.8 1435.8 2088.1 1442.0 2089.5 1435.9 2090.8 1443.1 2092.2 1434.9 2093.5 1437.1 2094.9 1438.6 2096.3 1439.7 2097.6 1427.8 2099.0 1441.2 2100.3 1435.5 2101.7 1437.4 2103.0 1444.7 2104.4 1437.5 2105.7 1435.8 2107.1 1443.9 2108.4 1441.8 2109.8 1439.9 2111.2 1443.7 2112.5 1440.7 2113.9 1441.7 2115.2 1438.6 2116.6 1440.8 2117.9 1438.9 2119.3 1433.5 2120.6 1444.9 2122.0 1437.2 2123.3 1434.6 2124.7 1438.0 2126.1 1438.8 2127.4 1434.4 2128.8 1435.8 2130.1 1436.3 2131.5 1436.5 2132.8 1437.7 2134.2 1438.5 2135.5 1437.4 2136.9 1436.2 2138.2 1436.9 2139.6 1434.5 2141.0 1430.6 2142.3 1432.1 2143.7 1436.8 2145.0 1430.6 2146.4 1429.6 2147.7 1436.1 2149.1 1431.0 2150.4 1432.1 2151.8 1429.7 2153.2 1431.1 2154.5 1428.9 2155.9 1431.4 2157.2 1432.8 2158.6 1428.3 2159.9 1431.6 2161.3 1426.2 2162.6 1432.3 2164.0 1431.4 2165.3 1427.2 2166.7 1428.4 2168.1 1428.0 2169.4 1420.8 2170.8 1425.0 2172.1 1425.3 2173.5 1426.5 2174.8 1424.2 2176.2 1425.4 2177.5 1426.8 2178.9 1425.8 2180.2 1424.0 2181.6 1429.7 2183.0 1426.0 2184.3 1422.5 2185.7 1421.9 2187.0 1426.0 2188.4 1420.5 2189.7 1421.1 2191.1 1425.1 2192.4 1423.6 2193.8 1418.1 2195.1 1430.2 2196.5 1422.7" stroke="#A0A0A0"/>
</g>
<g fill="#000">
<rect x="161" y="19" width="2039" height="6"/>
<rect x="161" y="19" width="7" height="1545"/>
<rect x="2193" y="19" width="7" height="1545"/>
<rect x="161" y="1557" width="2039" height="7"/>
<rect x="330.8" y="1546" width="6" height="13"/>
<rect x="500.2" y="1531" width="6" height="28"/>
<rect x="669.5" y="1546" width="6" height="13"/>
<rect x="838.8" y="1531" width="6" height="28"/>
<rect x="1008.2" y="1546" width="6" height="13"/>
<rect x="1177.5" y="1531" width="6" height="28"/>
<rect x="1346.8" y="1546" width="6" height="13"/>
<rect x="1516.2" y="1531" width="6" height="28"/>
<rect x="1685.5" y="1546" width="6" height="13"/>
<rect x="1854.8" y="1531" width="6" height="28"/>
<rect x="2024.2" y="1546" width="6" height="13"/>
</g>
<g>
<text text-anchor="middle" transform="translate(165.00 1643.8) scale(0.905 1)" font-size="67.3">10</text>
<text text-anchor="middle" transform="translate(503.67 1643.8) scale(0.905 1)" font-size="67.3">15</text>
<text text-anchor="middle" transform="translate(840.33 1643.8) scale(0.905 1)" font-size="67.3">20</text>
<text text-anchor="middle" transform="translate(1179.00 1643.8) scale(0.905 1)" font-size="67.3">25</text>
<text text-anchor="middle" transform="translate(1518.17 1643.8) scale(0.905 1)" font-size="67.3">30</text>
<text text-anchor="middle" transform="translate(1857.83 1643.8) scale(0.905 1)" font-size="67.3">35</text>
<text text-anchor="middle" transform="translate(2195.00 1643.8) scale(0.905 1)" font-size="67.3">40</text>
</g>
<g>
<text transform="translate(1772.85 204.15) scale(0.9012 1)" font-size="84.65">30 wt%</text>
<text transform="translate(1774.06 377.05) scale(0.9092 1)" font-size="84.51">20 wt%</text>
<text transform="translate(1774.74 543.15) scale(0.8898 1)" font-size="85.07">10 wt%</text>
<text transform="translate(1819.97 729.85) scale(0.8971 1)" font-size="84.51">3 wt%</text>
<text transform="translate(1700.68 975.80) scale(0.9242 1)" font-size="84.16">P(VDF-TrFE)</text>
<text transform="translate(1816.25 1332.00) scale(0.9239 1)" font-size="83.91">THNM</text>
<g><text transform="translate(1137.20 1774.70) scale(0.9452 1)" font-size="82.57">2</text><text transform="translate(1180.67 1774.82) scale(1.1047 1)" font-size="78.45" style="font-family:'Liberation Serif', serif">θ</text></g>
</g>
<text transform="translate(69 1037.94) rotate(-90) scale(0.9418 1)" font-size="84.23">Intensity [a.u.]</text>
</svg>
</body></html>
